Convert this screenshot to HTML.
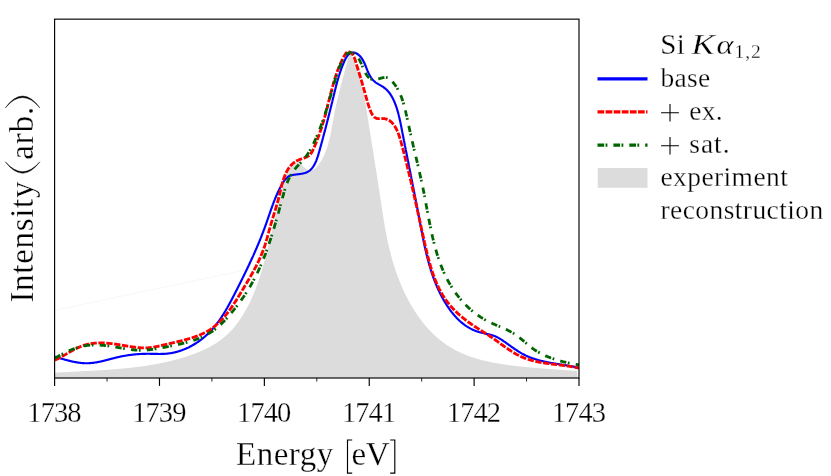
<!DOCTYPE html>
<html><head><meta charset="utf-8"><title>Si K-alpha spectrum</title>
<style>
html,body{margin:0;padding:0;background:#fff;}
body{width:831px;height:476px;overflow:hidden;position:relative;font-family:"Liberation Serif",serif;}
text{font-family:"Liberation Serif",serif;fill:#000;stroke:#fff;stroke-width:0.28px;}
.tk{font-size:28.5px;letter-spacing:-0.9px;}
.al{font-size:33px;}
.yl{letter-spacing:0.7px;}
.lg{font-size:27.5px;letter-spacing:0.3px;}
</style></head><body>
<svg width="831" height="476" viewBox="0 0 831 476" style="position:absolute;left:0;top:0;will-change:transform;">
<rect x="0" y="0" width="831" height="476" fill="#ffffff"/>
<clipPath id="ax"><rect x="54.6" y="19.15" width="524.4" height="358.85"/></clipPath>
<g clip-path="url(#ax)">
<path d="M54.65,372.73 L55.15,372.70 L55.64,372.67 L56.13,372.64 L56.63,372.61 L57.12,372.58 L57.62,372.55 L58.11,372.52 L58.61,372.49 L59.10,372.47 L59.60,372.44 L60.09,372.41 L60.59,372.38 L61.08,372.35 L61.58,372.33 L62.07,372.30 L62.57,372.27 L63.06,372.24 L63.56,372.22 L64.05,372.19 L64.55,372.16 L65.05,372.14 L65.54,372.11 L66.04,372.08 L66.54,372.06 L67.03,372.03 L67.53,372.01 L68.02,371.98 L68.52,371.95 L69.02,371.93 L69.52,371.90 L70.01,371.88 L70.51,371.85 L71.01,371.83 L71.50,371.80 L72.00,371.77 L72.50,371.75 L73.00,371.72 L73.49,371.70 L73.99,371.67 L74.49,371.65 L74.99,371.62 L75.49,371.60 L75.98,371.57 L76.48,371.55 L76.98,371.52 L77.48,371.50 L77.98,371.47 L78.48,371.45 L78.97,371.42 L79.47,371.40 L79.97,371.37 L80.47,371.35 L80.97,371.32 L81.47,371.30 L81.97,371.27 L82.47,371.25 L82.97,371.22 L83.46,371.20 L83.96,371.17 L84.46,371.15 L84.96,371.12 L85.46,371.10 L85.96,371.07 L86.46,371.04 L86.96,371.02 L87.46,370.99 L87.96,370.97 L88.46,370.94 L88.96,370.91 L89.46,370.89 L89.96,370.86 L90.46,370.83 L90.96,370.81 L91.46,370.78 L91.96,370.75 L92.46,370.73 L92.96,370.70 L93.46,370.67 L93.95,370.64 L94.45,370.61 L94.95,370.59 L95.45,370.56 L95.95,370.53 L96.45,370.50 L96.95,370.47 L97.45,370.44 L97.95,370.41 L98.45,370.38 L98.95,370.35 L99.45,370.32 L99.95,370.29 L100.45,370.26 L100.95,370.23 L101.45,370.20 L101.95,370.17 L102.45,370.14 L102.95,370.11 L103.45,370.07 L103.95,370.04 L104.45,370.01 L104.95,369.98 L105.45,369.94 L105.95,369.91 L106.45,369.88 L106.95,369.84 L107.45,369.81 L107.95,369.77 L108.45,369.74 L108.95,369.70 L109.45,369.67 L109.95,369.63 L110.45,369.59 L110.95,369.56 L111.45,369.52 L111.95,369.48 L112.45,369.44 L112.95,369.41 L113.45,369.37 L113.95,369.33 L114.45,369.29 L114.95,369.25 L115.45,369.21 L115.95,369.17 L116.45,369.13 L116.95,369.09 L117.45,369.05 L117.94,369.00 L118.44,368.96 L118.94,368.92 L119.44,368.87 L119.94,368.83 L120.44,368.79 L120.94,368.74 L121.44,368.70 L121.94,368.65 L122.43,368.60 L122.93,368.56 L123.43,368.51 L123.93,368.46 L124.43,368.41 L124.93,368.37 L125.42,368.32 L125.92,368.27 L126.42,368.22 L126.92,368.17 L127.42,368.11 L127.91,368.06 L128.41,368.01 L128.91,367.96 L129.41,367.90 L129.90,367.85 L130.40,367.80 L130.90,367.74 L131.40,367.69 L131.89,367.63 L132.39,367.57 L132.89,367.52 L133.38,367.46 L133.88,367.40 L134.38,367.34 L134.87,367.28 L135.37,367.22 L135.87,367.16 L136.36,367.10 L136.86,367.04 L137.36,366.97 L137.85,366.91 L138.35,366.85 L138.84,366.78 L139.34,366.72 L139.83,366.65 L140.33,366.58 L140.82,366.52 L141.32,366.45 L141.81,366.38 L142.31,366.31 L142.80,366.24 L143.30,366.17 L143.79,366.10 L144.29,366.03 L144.78,365.95 L145.27,365.88 L145.77,365.81 L146.26,365.73 L146.76,365.65 L147.25,365.58 L147.74,365.50 L148.24,365.42 L148.73,365.34 L149.22,365.27 L149.71,365.19 L150.21,365.10 L150.70,365.02 L151.19,364.94 L151.68,364.86 L152.18,364.77 L152.67,364.69 L153.16,364.60 L153.65,364.52 L154.14,364.43 L154.63,364.34 L155.12,364.25 L155.61,364.16 L156.11,364.07 L156.60,363.98 L157.09,363.89 L157.58,363.80 L158.07,363.70 L158.56,363.61 L159.05,363.51 L159.54,363.42 L160.02,363.32 L160.51,363.22 L161.00,363.12 L161.49,363.02 L161.98,362.92 L162.47,362.82 L162.96,362.72 L163.44,362.61 L163.93,362.51 L164.42,362.40 L164.91,362.30 L165.39,362.19 L165.88,362.08 L166.37,361.97 L166.85,361.86 L167.34,361.75 L167.83,361.64 L168.31,361.53 L168.80,361.41 L169.28,361.30 L169.77,361.18 L170.26,361.07 L170.74,360.95 L171.22,360.83 L171.71,360.71 L172.19,360.59 L172.68,360.47 L173.16,360.35 L173.65,360.22 L174.13,360.10 L174.61,359.97 L175.09,359.84 L175.58,359.72 L176.06,359.59 L176.54,359.46 L177.02,359.33 L177.51,359.20 L177.99,359.06 L178.47,358.93 L178.95,358.79 L179.43,358.66 L179.91,358.52 L180.39,358.38 L180.87,358.24 L181.35,358.10 L181.83,357.96 L182.31,357.82 L182.79,357.67 L183.27,357.53 L183.75,357.38 L184.23,357.23 L184.70,357.09 L185.18,356.94 L185.66,356.78 L186.14,356.63 L186.61,356.48 L187.09,356.33 L187.57,356.17 L188.04,356.01 L188.52,355.85 L188.99,355.70 L189.47,355.53 L189.94,355.37 L190.41,355.21 L190.89,355.04 L191.36,354.88 L191.83,354.71 L192.30,354.54 L192.77,354.37 L193.24,354.20 L193.71,354.03 L194.18,353.85 L194.65,353.68 L195.12,353.50 L195.59,353.32 L196.05,353.14 L196.52,352.96 L196.98,352.78 L197.45,352.59 L197.91,352.40 L198.37,352.22 L198.84,352.03 L199.30,351.83 L199.76,351.64 L200.22,351.45 L200.68,351.25 L201.13,351.05 L201.59,350.85 L202.05,350.65 L202.50,350.45 L202.95,350.24 L203.41,350.04 L203.86,349.83 L204.31,349.62 L204.76,349.40 L205.21,349.19 L205.66,348.97 L206.10,348.76 L206.55,348.54 L206.99,348.32 L207.43,348.09 L207.88,347.87 L208.32,347.64 L208.76,347.41 L209.19,347.18 L209.63,346.95 L210.07,346.71 L210.50,346.47 L210.93,346.24 L211.37,345.99 L211.80,345.75 L212.23,345.51 L212.65,345.26 L213.08,345.01 L213.50,344.76 L213.93,344.50 L214.35,344.25 L214.77,343.99 L215.19,343.73 L215.61,343.47 L216.02,343.20 L216.44,342.93 L216.85,342.66 L217.26,342.39 L217.67,342.12 L218.08,341.84 L218.49,341.56 L218.89,341.28 L219.29,341.00 L219.69,340.71 L220.09,340.43 L220.49,340.14 L220.89,339.84 L221.28,339.55 L221.68,339.25 L222.07,338.95 L222.46,338.65 L222.84,338.34 L223.23,338.03 L223.61,337.72 L223.99,337.41 L224.37,337.10 L224.75,336.78 L225.13,336.46 L225.50,336.13 L225.87,335.81 L226.24,335.48 L226.61,335.15 L226.98,334.82 L227.34,334.48 L227.70,334.14 L228.06,333.80 L228.42,333.46 L228.77,333.11 L229.13,332.76 L229.48,332.41 L229.83,332.05 L230.17,331.69 L230.52,331.33 L230.86,330.97 L231.20,330.61 L231.54,330.24 L231.88,329.87 L232.21,329.50 L232.54,329.13 L232.88,328.75 L233.20,328.37 L233.53,327.99 L233.86,327.61 L234.18,327.22 L234.50,326.84 L234.82,326.45 L235.13,326.06 L235.45,325.66 L235.76,325.27 L236.07,324.87 L236.38,324.47 L236.69,324.07 L236.99,323.67 L237.30,323.27 L237.60,322.86 L237.90,322.46 L238.19,322.05 L238.49,321.64 L238.78,321.23 L239.08,320.81 L239.36,320.40 L239.65,319.98 L239.94,319.56 L240.22,319.15 L240.51,318.72 L240.79,318.30 L241.06,317.88 L241.34,317.46 L241.62,317.03 L241.89,316.60 L242.16,316.18 L242.43,315.75 L242.70,315.32 L242.96,314.89 L243.23,314.46 L243.49,314.02 L243.75,313.59 L244.01,313.16 L244.27,312.72 L244.52,312.28 L244.78,311.85 L245.03,311.41 L245.28,310.97 L245.53,310.53 L245.77,310.09 L246.02,309.65 L246.26,309.21 L246.50,308.77 L246.74,308.33 L246.98,307.89 L247.22,307.44 L247.45,307.00 L247.69,306.55 L247.92,306.11 L248.15,305.66 L248.38,305.22 L248.60,304.77 L248.83,304.33 L249.05,303.88 L249.27,303.43 L249.50,302.98 L249.71,302.53 L249.93,302.08 L250.15,301.63 L250.36,301.18 L250.58,300.73 L250.79,300.28 L251.00,299.83 L251.21,299.37 L251.41,298.92 L251.62,298.47 L251.82,298.01 L252.03,297.56 L252.23,297.10 L252.43,296.65 L252.63,296.19 L252.82,295.73 L253.02,295.28 L253.21,294.82 L253.41,294.36 L253.60,293.90 L253.79,293.44 L253.98,292.98 L254.17,292.52 L254.36,292.06 L254.54,291.60 L254.73,291.14 L254.91,290.68 L255.09,290.22 L255.27,289.76 L255.45,289.29 L255.63,288.83 L255.81,288.37 L255.98,287.90 L256.16,287.44 L256.33,286.97 L256.51,286.51 L256.68,286.04 L256.85,285.58 L257.02,285.11 L257.18,284.64 L257.35,284.18 L257.52,283.71 L257.68,283.24 L257.85,282.77 L258.01,282.30 L258.17,281.83 L258.33,281.36 L258.49,280.90 L258.65,280.43 L258.81,279.95 L258.97,279.48 L259.12,279.01 L259.28,278.54 L259.43,278.07 L259.59,277.60 L259.74,277.13 L259.89,276.65 L260.04,276.18 L260.19,275.71 L260.34,275.23 L260.49,274.76 L260.63,274.29 L260.78,273.81 L260.93,273.34 L261.07,272.86 L261.22,272.39 L261.36,271.91 L261.50,271.44 L261.64,270.96 L261.78,270.48 L261.92,270.01 L262.06,269.53 L262.20,269.05 L262.34,268.58 L262.48,268.10 L262.61,267.62 L262.75,267.14 L262.89,266.66 L263.02,266.19 L263.16,265.71 L263.29,265.23 L263.42,264.75 L263.55,264.27 L263.69,263.79 L263.82,263.31 L263.95,262.83 L264.08,262.35 L264.21,261.87 L264.34,261.39 L264.47,260.91 L264.59,260.43 L264.72,259.95 L264.85,259.47 L264.97,258.99 L265.10,258.50 L265.23,258.02 L265.35,257.54 L265.48,257.06 L265.60,256.58 L265.73,256.10 L265.85,255.61 L265.97,255.13 L266.10,254.65 L266.22,254.17 L266.34,253.68 L266.46,253.20 L266.58,252.72 L266.70,252.23 L266.83,251.75 L266.95,251.27 L267.07,250.78 L267.19,250.30 L267.31,249.82 L267.43,249.33 L267.55,248.85 L267.67,248.36 L267.78,247.88 L267.90,247.40 L268.02,246.91 L268.14,246.43 L268.26,245.94 L268.38,245.46 L268.49,244.98 L268.61,244.49 L268.73,244.01 L268.85,243.52 L268.97,243.04 L269.08,242.55 L269.20,242.07 L269.32,241.58 L269.44,241.10 L269.55,240.62 L269.67,240.13 L269.79,239.65 L269.91,239.16 L270.02,238.68 L270.14,238.19 L270.26,237.71 L270.38,237.22 L270.49,236.74 L270.61,236.25 L270.73,235.77 L270.85,235.29 L270.96,234.80 L271.08,234.32 L271.20,233.83 L271.32,233.35 L271.43,232.86 L271.55,232.38 L271.67,231.89 L271.79,231.41 L271.90,230.92 L272.02,230.44 L272.14,229.95 L272.26,229.47 L272.38,228.98 L272.49,228.50 L272.61,228.01 L272.73,227.53 L272.85,227.04 L272.97,226.56 L273.09,226.07 L273.20,225.59 L273.32,225.10 L273.44,224.62 L273.56,224.13 L273.68,223.65 L273.80,223.16 L273.92,222.67 L274.04,222.19 L274.15,221.70 L274.27,221.22 L274.39,220.73 L274.51,220.24 L274.63,219.76 L274.75,219.27 L274.87,218.79 L274.99,218.30 L275.11,217.81 L275.23,217.33 L275.35,216.84 L275.47,216.35 L275.59,215.87 L275.71,215.38 L275.83,214.89 L275.95,214.40 L276.07,213.92 L276.19,213.43 L276.31,212.94 L276.43,212.45 L276.55,211.97 L276.67,211.48 L276.79,210.99 L276.91,210.50 L277.03,210.01 L277.15,209.53 L277.27,209.04 L277.39,208.55 L277.52,208.06 L277.64,207.57 L277.76,207.08 L277.88,206.59 L278.00,206.10 L278.12,205.61 L278.25,205.12 L278.37,204.63 L278.49,204.14 L278.61,203.65 L278.73,203.16 L278.86,202.67 L278.98,202.18 L279.10,201.69 L279.23,201.20 L279.35,200.71 L279.47,200.21 L279.59,199.72 L279.72,199.23 L279.84,198.74 L279.96,198.25 L280.09,197.75 L280.21,197.26 L280.34,196.77 L280.46,196.27 L280.58,195.78 L280.71,195.29 L280.83,194.79 L280.96,194.30 L281.08,193.81 L281.21,193.31 L281.33,192.82 L281.46,192.32 L281.58,191.83 L281.71,191.33 L281.83,190.84 L281.96,190.34 L282.09,189.85 L282.21,189.35 L282.34,188.85 L282.46,188.36 L282.59,187.86 L282.72,187.36 L282.84,186.87 L282.97,186.37 L283.10,185.87 L283.23,185.37 L283.35,184.87 L283.48,184.37 L283.61,183.88 L283.74,183.38 L283.87,182.88 L284.00,182.38 L284.13,181.89 L284.26,181.39 L284.40,180.90 L284.53,180.41 L284.67,179.92 L284.81,179.43 L284.96,178.94 L285.10,178.46 L285.25,177.98 L285.40,177.50 L285.55,177.03 L285.71,176.55 L285.87,176.09 L286.03,175.62 L286.20,175.16 L286.37,174.70 L286.55,174.25 L286.73,173.80 L286.91,173.36 L287.10,172.92 L287.30,172.49 L287.49,172.06 L287.70,171.63 L287.91,171.22 L288.12,170.81 L288.34,170.40 L288.57,170.00 L288.80,169.61 L289.04,169.22 L289.29,168.85 L289.54,168.47 L289.80,168.11 L290.06,167.75 L290.33,167.41 L290.62,167.07 L290.90,166.73 L291.20,166.41 L291.50,166.09 L291.81,165.79 L292.13,165.49 L292.46,165.20 L292.80,164.92 L293.14,164.65 L293.50,164.40 L293.86,164.15 L294.24,163.91 L294.62,163.68 L295.01,163.46 L295.41,163.26 L295.83,163.06 L296.25,162.88 L296.68,162.70 L297.13,162.54 L297.58,162.39 L298.05,162.26 L298.52,162.13 L299.01,162.02 L299.51,161.92 L300.02,161.84 L300.51,162.58 L300.86,163.22 L301.22,163.83 L301.60,164.42 L301.98,164.97 L302.37,165.49 L302.77,165.98 L303.18,166.44 L303.59,166.88 L304.01,167.28 L304.44,167.66 L304.87,168.00 L305.30,168.32 L305.74,168.61 L306.18,168.88 L306.62,169.11 L307.07,169.32 L307.51,169.50 L307.96,169.66 L308.41,169.79 L308.85,169.89 L309.30,169.97 L309.74,170.02 L310.18,170.04 L310.62,170.04 L311.05,170.02 L311.48,169.97 L311.90,169.89 L312.32,169.80 L312.73,169.68 L313.14,169.53 L313.54,169.36 L313.93,169.17 L314.31,168.95 L314.68,168.72 L315.05,168.46 L315.40,168.19 L315.75,167.89 L316.09,167.59 L316.43,167.26 L316.76,166.92 L317.08,166.57 L317.40,166.21 L317.71,165.84 L318.01,165.46 L318.31,165.07 L318.61,164.67 L318.90,164.27 L319.18,163.87 L319.46,163.46 L319.74,163.05 L320.01,162.64 L320.28,162.23 L320.54,161.82 L320.80,161.40 L321.05,160.98 L321.30,160.56 L321.55,160.13 L321.79,159.71 L322.03,159.28 L322.27,158.85 L322.50,158.42 L322.73,157.99 L322.95,157.55 L323.17,157.11 L323.39,156.68 L323.60,156.23 L323.81,155.79 L324.02,155.35 L324.22,154.90 L324.42,154.45 L324.62,154.00 L324.81,153.55 L325.00,153.10 L325.19,152.65 L325.37,152.19 L325.56,151.73 L325.73,151.27 L325.91,150.81 L326.08,150.35 L326.25,149.89 L326.42,149.42 L326.58,148.96 L326.74,148.49 L326.90,148.02 L327.06,147.55 L327.21,147.08 L327.36,146.61 L327.51,146.14 L327.65,145.66 L327.80,145.18 L327.94,144.71 L328.08,144.23 L328.21,143.75 L328.35,143.27 L328.48,142.79 L328.61,142.31 L328.74,141.82 L328.87,141.34 L328.99,140.85 L329.11,140.37 L329.24,139.88 L329.35,139.39 L329.47,138.90 L329.59,138.41 L329.70,137.92 L329.81,137.43 L329.93,136.94 L330.04,136.45 L330.14,135.96 L330.25,135.46 L330.36,134.97 L330.46,134.47 L330.56,133.98 L330.67,133.48 L330.77,132.99 L330.87,132.49 L330.96,131.99 L331.06,131.50 L331.16,131.00 L331.25,130.50 L331.35,130.00 L331.44,129.50 L331.54,129.00 L331.63,128.50 L331.72,128.01 L331.81,127.51 L331.90,127.01 L332.00,126.51 L332.09,126.01 L332.18,125.51 L332.26,125.01 L332.35,124.50 L332.44,124.00 L332.53,123.50 L332.62,123.00 L332.71,122.50 L332.80,122.00 L332.88,121.50 L332.97,121.00 L333.06,120.50 L333.15,120.01 L333.24,119.51 L333.33,119.01 L333.42,118.51 L333.51,118.01 L333.60,117.51 L333.69,117.02 L333.78,116.52 L333.87,116.02 L333.96,115.53 L334.06,115.03 L334.15,114.54 L334.24,114.04 L334.34,113.55 L334.43,113.05 L334.53,112.56 L334.63,112.07 L334.73,111.58 L334.82,111.09 L334.92,110.59 L335.02,110.10 L335.12,109.61 L335.23,109.12 L335.33,108.64 L335.43,108.15 L335.54,107.66 L335.64,107.17 L335.74,106.68 L335.85,106.20 L335.96,105.71 L336.06,105.23 L336.17,104.74 L336.28,104.26 L336.39,103.77 L336.50,103.29 L336.61,102.80 L336.72,102.32 L336.83,101.84 L336.94,101.35 L337.05,100.87 L337.16,100.39 L337.28,99.91 L337.39,99.42 L337.50,98.94 L337.62,98.46 L337.73,97.98 L337.85,97.50 L337.96,97.02 L338.08,96.54 L338.20,96.06 L338.32,95.58 L338.43,95.10 L338.55,94.62 L338.67,94.14 L338.79,93.66 L338.91,93.19 L339.03,92.71 L339.15,92.23 L339.27,91.75 L339.39,91.27 L339.51,90.80 L339.63,90.32 L339.76,89.84 L339.88,89.36 L340.00,88.88 L340.13,88.41 L340.25,87.93 L340.37,87.45 L340.50,86.98 L340.62,86.50 L340.75,86.02 L340.87,85.55 L340.99,85.07 L341.12,84.59 L341.25,84.11 L341.37,83.64 L341.50,83.16 L341.62,82.68 L341.75,82.21 L341.88,81.73 L342.00,81.25 L342.13,80.78 L342.26,80.30 L342.39,79.82 L342.51,79.34 L342.64,78.87 L342.77,78.39 L342.90,77.91 L343.02,77.43 L343.15,76.96 L343.28,76.48 L343.41,76.00 L343.54,75.52 L343.67,75.04 L343.79,74.56 L343.92,74.09 L344.05,73.61 L344.18,73.13 L344.31,72.65 L344.44,72.17 L344.57,71.69 L344.69,71.21 L344.82,70.73 L344.95,70.25 L345.08,69.77 L345.21,69.29 L345.34,68.80 L345.47,68.32 L345.59,67.84 L345.72,67.36 L345.85,66.88 L345.98,66.39 L346.11,65.91 L346.24,65.43 L346.36,64.94 L346.49,64.46 L346.62,63.97 L346.75,63.49 L346.87,63.00 L347.00,62.52 L347.13,62.03 L347.26,61.54 L347.38,61.06 L347.51,60.57 L347.64,60.08 L347.76,59.59 L347.89,59.10 L348.01,58.61 L348.14,58.12 L348.26,57.63 L348.39,57.14 L348.51,56.65 L348.64,56.16 L348.76,55.67 L348.89,55.17 L349.01,54.68 L349.13,54.19 L349.26,53.69 L349.38,53.20 L349.50,52.70 L349.91,52.62 L350.15,53.07 L350.38,53.52 L350.61,53.97 L350.84,54.42 L351.07,54.87 L351.29,55.32 L351.52,55.78 L351.74,56.23 L351.95,56.68 L352.17,57.14 L352.39,57.59 L352.60,58.05 L352.81,58.51 L353.01,58.96 L353.22,59.42 L353.42,59.88 L353.63,60.34 L353.82,60.80 L354.02,61.26 L354.22,61.72 L354.41,62.18 L354.60,62.64 L354.79,63.10 L354.98,63.57 L355.17,64.03 L355.35,64.49 L355.53,64.96 L355.71,65.42 L355.89,65.89 L356.07,66.35 L356.24,66.82 L356.41,67.29 L356.59,67.75 L356.75,68.22 L356.92,68.69 L357.09,69.16 L357.25,69.63 L357.41,70.10 L357.58,70.57 L357.73,71.04 L357.89,71.51 L358.05,71.98 L358.20,72.46 L358.35,72.93 L358.51,73.40 L358.66,73.88 L358.80,74.35 L358.95,74.83 L359.09,75.30 L359.24,75.78 L359.38,76.25 L359.52,76.73 L359.66,77.20 L359.80,77.68 L359.93,78.16 L360.07,78.64 L360.20,79.12 L360.33,79.59 L360.46,80.07 L360.59,80.55 L360.72,81.03 L360.85,81.51 L360.97,81.99 L361.10,82.47 L361.22,82.96 L361.34,83.44 L361.46,83.92 L361.58,84.40 L361.70,84.88 L361.82,85.37 L361.93,85.85 L362.05,86.33 L362.16,86.82 L362.27,87.30 L362.38,87.79 L362.49,88.27 L362.60,88.76 L362.71,89.24 L362.82,89.73 L362.93,90.22 L363.03,90.70 L363.14,91.19 L363.24,91.68 L363.34,92.16 L363.44,92.65 L363.54,93.14 L363.64,93.63 L363.74,94.11 L363.84,94.60 L363.94,95.09 L364.03,95.58 L364.13,96.07 L364.22,96.56 L364.32,97.05 L364.41,97.54 L364.50,98.03 L364.59,98.52 L364.69,99.01 L364.78,99.50 L364.87,99.99 L364.95,100.48 L365.04,100.98 L365.13,101.47 L365.22,101.96 L365.30,102.45 L365.39,102.94 L365.48,103.43 L365.56,103.93 L365.65,104.42 L365.73,104.91 L365.81,105.40 L365.90,105.90 L365.98,106.39 L366.06,106.88 L366.14,107.38 L366.22,107.87 L366.30,108.36 L366.38,108.86 L366.47,109.35 L366.54,109.85 L366.62,110.34 L366.70,110.83 L366.78,111.33 L366.86,111.82 L366.94,112.32 L367.02,112.81 L367.10,113.31 L367.17,113.80 L367.25,114.29 L367.33,114.79 L367.41,115.28 L367.48,115.78 L367.56,116.27 L367.64,116.77 L367.71,117.26 L367.79,117.76 L367.87,118.25 L367.94,118.75 L368.02,119.24 L368.10,119.74 L368.17,120.23 L368.25,120.73 L368.33,121.22 L368.40,121.72 L368.48,122.21 L368.56,122.71 L368.63,123.20 L368.71,123.70 L368.79,124.19 L368.87,124.69 L368.94,125.18 L369.02,125.68 L369.10,126.17 L369.18,126.67 L369.25,127.16 L369.33,127.66 L369.41,128.15 L369.49,128.65 L369.56,129.14 L369.64,129.64 L369.72,130.13 L369.80,130.63 L369.87,131.12 L369.95,131.62 L370.03,132.11 L370.11,132.61 L370.19,133.10 L370.26,133.59 L370.34,134.09 L370.42,134.58 L370.50,135.08 L370.58,135.57 L370.66,136.07 L370.73,136.56 L370.81,137.06 L370.89,137.55 L370.97,138.05 L371.05,138.54 L371.13,139.04 L371.21,139.53 L371.28,140.02 L371.36,140.52 L371.44,141.01 L371.52,141.51 L371.60,142.00 L371.68,142.50 L371.76,142.99 L371.83,143.49 L371.91,143.98 L371.99,144.47 L372.07,144.97 L372.15,145.46 L372.23,145.96 L372.31,146.45 L372.39,146.95 L372.47,147.44 L372.54,147.93 L372.62,148.43 L372.70,148.92 L372.78,149.42 L372.86,149.91 L372.94,150.40 L373.02,150.90 L373.10,151.39 L373.18,151.89 L373.25,152.38 L373.33,152.88 L373.41,153.37 L373.49,153.86 L373.57,154.36 L373.65,154.85 L373.73,155.35 L373.81,155.84 L373.89,156.33 L373.96,156.83 L374.04,157.32 L374.12,157.81 L374.20,158.31 L374.28,158.80 L374.36,159.30 L374.44,159.79 L374.52,160.28 L374.59,160.78 L374.67,161.27 L374.75,161.77 L374.83,162.26 L374.91,162.75 L374.99,163.25 L375.07,163.74 L375.14,164.23 L375.22,164.73 L375.30,165.22 L375.38,165.71 L375.46,166.21 L375.54,166.70 L375.61,167.19 L375.69,167.69 L375.77,168.18 L375.85,168.68 L375.93,169.17 L376.01,169.66 L376.08,170.16 L376.16,170.65 L376.24,171.14 L376.32,171.64 L376.39,172.13 L376.47,172.62 L376.55,173.11 L376.63,173.61 L376.71,174.10 L376.78,174.59 L376.86,175.09 L376.94,175.58 L377.02,176.07 L377.09,176.57 L377.17,177.06 L377.25,177.55 L377.32,178.05 L377.40,178.54 L377.48,179.03 L377.56,179.52 L377.63,180.02 L377.71,180.51 L377.79,181.00 L377.86,181.50 L377.94,181.99 L378.02,182.48 L378.09,182.97 L378.17,183.47 L378.24,183.96 L378.32,184.45 L378.40,184.95 L378.47,185.44 L378.55,185.93 L378.62,186.42 L378.70,186.92 L378.78,187.41 L378.85,187.90 L378.93,188.39 L379.00,188.89 L379.08,189.38 L379.15,189.87 L379.23,190.36 L379.30,190.86 L379.38,191.35 L379.45,191.84 L379.53,192.33 L379.60,192.82 L379.68,193.32 L379.75,193.81 L379.82,194.30 L379.90,194.79 L379.97,195.28 L380.05,195.78 L380.12,196.27 L380.19,196.76 L380.27,197.25 L380.34,197.75 L380.42,198.24 L380.49,198.73 L380.56,199.22 L380.64,199.71 L380.71,200.20 L380.78,200.70 L380.86,201.19 L380.93,201.68 L381.00,202.17 L381.08,202.66 L381.15,203.15 L381.22,203.65 L381.30,204.14 L381.37,204.63 L381.44,205.12 L381.52,205.61 L381.59,206.10 L381.67,206.59 L381.74,207.09 L381.81,207.58 L381.89,208.07 L381.96,208.56 L382.04,209.05 L382.11,209.54 L382.19,210.03 L382.26,210.52 L382.34,211.02 L382.41,211.51 L382.49,212.00 L382.56,212.49 L382.64,212.98 L382.72,213.47 L382.79,213.96 L382.87,214.45 L382.95,214.94 L383.02,215.43 L383.10,215.92 L383.18,216.41 L383.26,216.90 L383.33,217.40 L383.41,217.89 L383.49,218.38 L383.57,218.87 L383.65,219.36 L383.73,219.85 L383.81,220.34 L383.89,220.83 L383.97,221.32 L384.05,221.81 L384.13,222.30 L384.22,222.79 L384.30,223.28 L384.38,223.77 L384.47,224.26 L384.55,224.75 L384.63,225.24 L384.72,225.73 L384.80,226.22 L384.89,226.71 L384.97,227.20 L385.06,227.69 L385.15,228.17 L385.24,228.66 L385.32,229.15 L385.41,229.64 L385.50,230.13 L385.59,230.62 L385.68,231.11 L385.77,231.60 L385.86,232.09 L385.95,232.58 L386.05,233.07 L386.14,233.55 L386.23,234.04 L386.33,234.53 L386.42,235.02 L386.52,235.51 L386.61,236.00 L386.71,236.49 L386.81,236.98 L386.91,237.46 L387.00,237.95 L387.10,238.44 L387.20,238.93 L387.30,239.42 L387.41,239.90 L387.51,240.39 L387.61,240.88 L387.71,241.37 L387.82,241.86 L387.92,242.34 L388.03,242.83 L388.14,243.32 L388.24,243.81 L388.35,244.29 L388.46,244.78 L388.57,245.27 L388.68,245.76 L388.79,246.24 L388.91,246.73 L389.02,247.22 L389.13,247.71 L389.25,248.19 L389.36,248.68 L389.48,249.17 L389.60,249.65 L389.72,250.14 L389.83,250.63 L389.96,251.11 L390.08,251.60 L390.20,252.09 L390.32,252.57 L390.45,253.06 L390.57,253.55 L390.70,254.03 L390.82,254.52 L390.95,255.00 L391.08,255.49 L391.21,255.98 L391.34,256.46 L391.47,256.95 L391.61,257.43 L391.74,257.92 L391.87,258.40 L392.01,258.89 L392.15,259.37 L392.29,259.86 L392.43,260.35 L392.57,260.83 L392.71,261.32 L392.85,261.80 L392.99,262.28 L393.14,262.77 L393.28,263.25 L393.43,263.74 L393.58,264.22 L393.73,264.71 L393.88,265.19 L394.03,265.67 L394.18,266.16 L394.34,266.64 L394.49,267.12 L394.65,267.61 L394.80,268.09 L394.96,268.57 L395.12,269.05 L395.28,269.54 L395.44,270.02 L395.60,270.50 L395.77,270.98 L395.93,271.46 L396.10,271.94 L396.26,272.42 L396.43,272.90 L396.60,273.38 L396.77,273.86 L396.94,274.34 L397.11,274.82 L397.29,275.29 L397.46,275.77 L397.64,276.25 L397.82,276.72 L397.99,277.20 L398.17,277.68 L398.35,278.15 L398.54,278.63 L398.72,279.10 L398.90,279.58 L399.09,280.05 L399.27,280.52 L399.46,281.00 L399.65,281.47 L399.84,281.94 L400.03,282.41 L400.22,282.88 L400.42,283.35 L400.61,283.82 L400.80,284.29 L401.00,284.76 L401.20,285.23 L401.40,285.70 L401.60,286.16 L401.80,286.63 L402.00,287.10 L402.21,287.56 L402.41,288.02 L402.62,288.49 L402.82,288.95 L403.03,289.41 L403.24,289.88 L403.45,290.34 L403.67,290.80 L403.88,291.26 L404.09,291.72 L404.31,292.18 L404.53,292.63 L404.74,293.09 L404.96,293.55 L405.18,294.00 L405.41,294.46 L405.63,294.91 L405.85,295.37 L406.08,295.82 L406.30,296.27 L406.53,296.72 L406.76,297.17 L406.99,297.62 L407.22,298.07 L407.46,298.52 L407.69,298.96 L407.92,299.41 L408.16,299.86 L408.40,300.30 L408.64,300.74 L408.88,301.19 L409.12,301.63 L409.36,302.07 L409.60,302.51 L409.85,302.95 L410.10,303.39 L410.34,303.82 L410.59,304.26 L410.84,304.69 L411.09,305.13 L411.35,305.56 L411.60,305.99 L411.85,306.43 L412.11,306.86 L412.37,307.29 L412.63,307.71 L412.89,308.14 L413.15,308.57 L413.41,308.99 L413.67,309.42 L413.94,309.84 L414.21,310.26 L414.47,310.68 L414.74,311.10 L415.01,311.52 L415.28,311.94 L415.56,312.36 L415.83,312.77 L416.11,313.19 L416.38,313.60 L416.66,314.01 L416.94,314.42 L417.22,314.83 L417.50,315.24 L417.79,315.65 L418.07,316.05 L418.36,316.46 L418.64,316.86 L418.93,317.26 L419.22,317.67 L419.51,318.07 L419.80,318.46 L420.10,318.86 L420.39,319.26 L420.69,319.65 L420.99,320.05 L421.29,320.44 L421.59,320.83 L421.89,321.22 L422.19,321.61 L422.49,321.99 L422.80,322.38 L423.11,322.76 L423.41,323.15 L423.72,323.53 L424.03,323.91 L424.35,324.29 L424.66,324.66 L424.97,325.04 L425.29,325.42 L425.61,325.79 L425.93,326.16 L426.25,326.53 L426.57,326.90 L426.89,327.27 L427.22,327.63 L427.54,328.00 L427.87,328.36 L428.20,328.72 L428.53,329.08 L428.86,329.44 L429.19,329.80 L429.52,330.15 L429.86,330.50 L430.20,330.86 L430.53,331.21 L430.87,331.56 L431.21,331.90 L431.56,332.25 L431.90,332.59 L432.24,332.94 L432.59,333.28 L432.94,333.62 L433.29,333.95 L433.64,334.29 L433.99,334.62 L434.34,334.96 L434.70,335.29 L435.05,335.62 L435.41,335.95 L435.77,336.27 L436.13,336.60 L436.49,336.92 L436.85,337.24 L437.22,337.56 L437.58,337.88 L437.95,338.19 L438.32,338.51 L438.69,338.82 L439.06,339.13 L439.43,339.44 L439.81,339.74 L440.18,340.05 L440.56,340.35 L440.94,340.65 L441.32,340.95 L441.70,341.25 L442.08,341.54 L442.47,341.84 L442.85,342.13 L443.24,342.42 L443.63,342.71 L444.02,342.99 L444.41,343.28 L444.80,343.56 L445.20,343.84 L445.59,344.12 L445.99,344.40 L446.39,344.67 L446.79,344.94 L447.19,345.22 L447.59,345.48 L448.00,345.75 L448.40,346.02 L448.81,346.28 L449.22,346.54 L449.63,346.80 L450.04,347.05 L450.45,347.31 L450.87,347.56 L451.29,347.81 L451.70,348.06 L452.12,348.31 L452.54,348.55 L452.96,348.79 L453.39,349.03 L453.81,349.27 L454.24,349.51 L454.67,349.74 L455.10,349.97 L455.53,350.20 L455.96,350.43 L456.39,350.65 L456.83,350.88 L457.27,351.10 L457.70,351.32 L458.14,351.53 L458.59,351.75 L459.03,351.96 L459.47,352.17 L459.92,352.38 L460.36,352.59 L460.81,352.79 L461.26,352.99 L461.71,353.19 L462.16,353.39 L462.61,353.59 L463.07,353.78 L463.52,353.98 L463.98,354.17 L464.44,354.36 L464.90,354.54 L465.36,354.73 L465.82,354.91 L466.28,355.10 L466.74,355.27 L467.21,355.45 L467.67,355.63 L468.14,355.80 L468.61,355.98 L469.08,356.15 L469.55,356.32 L470.02,356.48 L470.49,356.65 L470.97,356.81 L471.44,356.98 L471.92,357.14 L472.39,357.29 L472.87,357.45 L473.35,357.61 L473.83,357.76 L474.31,357.91 L474.79,358.06 L475.27,358.21 L475.75,358.36 L476.24,358.51 L476.72,358.65 L477.21,358.79 L477.69,358.93 L478.18,359.07 L478.67,359.21 L479.16,359.35 L479.65,359.48 L480.14,359.62 L480.63,359.75 L481.12,359.88 L481.61,360.01 L482.11,360.13 L482.60,360.26 L483.10,360.39 L483.59,360.51 L484.09,360.63 L484.58,360.75 L485.08,360.87 L485.58,360.99 L486.08,361.10 L486.58,361.22 L487.08,361.33 L487.58,361.45 L488.08,361.56 L488.58,361.67 L489.08,361.78 L489.59,361.88 L490.09,361.99 L490.59,362.09 L491.10,362.20 L491.60,362.30 L492.11,362.40 L492.61,362.50 L493.12,362.60 L493.62,362.70 L494.13,362.79 L494.64,362.89 L495.15,362.98 L495.65,363.08 L496.16,363.17 L496.67,363.26 L497.18,363.35 L497.69,363.44 L498.20,363.53 L498.71,363.61 L499.22,363.70 L499.73,363.78 L500.24,363.87 L500.75,363.95 L501.26,364.03 L501.78,364.11 L502.29,364.19 L502.80,364.27 L503.31,364.35 L503.82,364.42 L504.34,364.50 L504.85,364.57 L505.36,364.65 L505.87,364.72 L506.39,364.79 L506.90,364.86 L507.41,364.94 L507.93,365.01 L508.44,365.07 L508.95,365.14 L509.47,365.21 L509.98,365.28 L510.49,365.34 L511.00,365.41 L511.52,365.47 L512.03,365.54 L512.54,365.60 L513.06,365.66 L513.57,365.72 L514.08,365.78 L514.60,365.84 L515.11,365.90 L515.62,365.96 L516.13,366.02 L516.64,366.08 L517.16,366.13 L517.67,366.19 L518.18,366.25 L518.69,366.30 L519.20,366.36 L519.71,366.41 L520.22,366.46 L520.73,366.52 L521.24,366.57 L521.75,366.62 L522.26,366.67 L522.77,366.72 L523.28,366.77 L523.79,366.82 L524.30,366.87 L524.80,366.92 L525.31,366.97 L525.82,367.02 L526.32,367.07 L526.83,367.12 L527.34,367.16 L527.84,367.21 L528.35,367.26 L528.85,367.30 L529.36,367.35 L529.86,367.39 L530.36,367.44 L530.87,367.48 L531.37,367.53 L531.87,367.57 L532.37,367.61 L532.87,367.66 L533.38,367.70 L533.88,367.74 L534.38,367.79 L534.88,367.83 L535.38,367.87 L535.88,367.91 L536.38,367.95 L536.87,367.99 L537.37,368.04 L537.87,368.08 L538.37,368.12 L538.87,368.16 L539.36,368.20 L539.86,368.24 L540.36,368.28 L540.85,368.31 L541.35,368.35 L541.84,368.39 L542.34,368.43 L542.83,368.47 L543.33,368.51 L543.82,368.55 L544.31,368.58 L544.81,368.62 L545.30,368.66 L545.79,368.70 L546.29,368.74 L546.78,368.77 L547.27,368.81 L547.76,368.85 L548.25,368.88 L548.74,368.92 L549.23,368.96 L549.72,369.00 L550.21,369.03 L550.70,369.07 L551.19,369.11 L551.68,369.14 L552.17,369.18 L552.66,369.22 L553.14,369.25 L553.63,369.29 L554.12,369.32 L554.61,369.36 L555.09,369.40 L555.58,369.43 L556.07,369.47 L556.55,369.51 L557.04,369.54 L557.52,369.58 L558.01,369.62 L558.49,369.65 L558.98,369.69 L559.46,369.73 L559.94,369.76 L560.43,369.80 L560.91,369.84 L561.39,369.88 L561.88,369.91 L562.36,369.95 L562.84,369.99 L563.32,370.02 L563.80,370.06 L564.29,370.10 L564.77,370.14 L565.25,370.18 L565.73,370.21 L566.21,370.25 L566.69,370.29 L567.17,370.33 L567.65,370.37 L568.13,370.41 L568.60,370.45 L569.08,370.49 L569.56,370.53 L570.04,370.57 L570.52,370.61 L571.00,370.65 L571.47,370.69 L571.95,370.73 L572.43,370.77 L572.90,370.81 L573.38,370.85 L573.86,370.90 L574.33,370.94 L574.81,370.98 L575.28,371.02 L575.76,371.07 L576.23,371.11 L576.71,371.15 L577.18,371.20 L577.6,378.0 L54.6,378.0 Z" fill="#dcdcdc" stroke="none"/>
<line x1="54.6" y1="310.3" x2="258" y2="267.3" stroke="#f6f6f6" stroke-width="0.9"/>
<path d="M54.83,356.73 L55.29,356.87 L55.75,357.00 L56.21,357.13 L56.67,357.27 L57.13,357.40 L57.60,357.54 L58.06,357.68 L58.53,357.82 L59.00,357.95 L59.47,358.09 L59.95,358.23 L60.42,358.37 L60.90,358.51 L61.37,358.65 L61.85,358.79 L62.33,358.92 L62.81,359.06 L63.30,359.20 L63.78,359.33 L64.27,359.47 L64.75,359.61 L65.24,359.74 L65.73,359.87 L66.22,360.01 L66.71,360.14 L67.20,360.27 L67.69,360.39 L68.18,360.52 L68.68,360.65 L69.17,360.77 L69.66,360.89 L70.16,361.01 L70.66,361.13 L71.15,361.24 L71.65,361.36 L72.15,361.47 L72.65,361.58 L73.15,361.68 L73.65,361.79 L74.15,361.89 L74.65,361.99 L75.15,362.08 L75.65,362.17 L76.15,362.26 L76.65,362.35 L77.16,362.43 L77.66,362.51 L78.16,362.59 L78.66,362.66 L79.16,362.73 L79.67,362.79 L80.17,362.85 L80.67,362.91 L81.17,362.96 L81.67,363.01 L82.17,363.06 L82.68,363.10 L83.18,363.13 L83.68,363.17 L84.18,363.19 L84.68,363.21 L85.18,363.23 L85.68,363.24 L86.17,363.25 L86.67,363.25 L87.17,363.25 L87.67,363.24 L88.16,363.22 L88.66,363.21 L89.15,363.18 L89.65,363.15 L90.14,363.12 L90.63,363.08 L91.13,363.04 L91.62,362.99 L92.11,362.94 L92.60,362.89 L93.09,362.83 L93.59,362.77 L94.08,362.70 L94.57,362.63 L95.05,362.56 L95.54,362.48 L96.03,362.40 L96.52,362.32 L97.01,362.23 L97.50,362.14 L97.99,362.05 L98.47,361.95 L98.96,361.85 L99.45,361.75 L99.93,361.65 L100.42,361.55 L100.91,361.44 L101.39,361.33 L101.88,361.22 L102.36,361.10 L102.85,360.99 L103.33,360.87 L103.82,360.75 L104.30,360.64 L104.79,360.51 L105.27,360.39 L105.76,360.27 L106.24,360.14 L106.73,360.02 L107.21,359.89 L107.70,359.77 L108.18,359.64 L108.67,359.51 L109.15,359.39 L109.64,359.26 L110.12,359.13 L110.61,359.00 L111.09,358.87 L111.58,358.75 L112.06,358.62 L112.55,358.49 L113.03,358.37 L113.52,358.24 L114.01,358.12 L114.49,357.99 L114.98,357.87 L115.46,357.75 L115.95,357.63 L116.44,357.51 L116.93,357.39 L117.41,357.28 L117.90,357.16 L118.39,357.05 L118.88,356.94 L119.37,356.83 L119.86,356.73 L120.34,356.62 L120.83,356.52 L121.32,356.42 L121.81,356.32 L122.30,356.23 L122.80,356.13 L123.29,356.04 L123.78,355.95 L124.27,355.86 L124.76,355.77 L125.25,355.69 L125.75,355.61 L126.24,355.52 L126.73,355.45 L127.22,355.37 L127.72,355.29 L128.21,355.22 L128.70,355.15 L129.20,355.08 L129.69,355.01 L130.19,354.95 L130.68,354.88 L131.18,354.82 L131.67,354.76 L132.17,354.70 L132.66,354.64 L133.16,354.59 L133.65,354.54 L134.15,354.49 L134.64,354.44 L135.14,354.39 L135.63,354.35 L136.13,354.30 L136.63,354.26 L137.12,354.22 L137.62,354.18 L138.11,354.15 L138.61,354.11 L139.11,354.08 L139.60,354.05 L140.10,354.02 L140.60,353.99 L141.09,353.97 L141.59,353.94 L142.09,353.92 L142.58,353.90 L143.08,353.88 L143.58,353.86 L144.07,353.85 L144.57,353.84 L145.07,353.82 L145.56,353.81 L146.06,353.81 L146.56,353.80 L147.06,353.79 L147.55,353.79 L148.05,353.79 L148.55,353.79 L149.04,353.79 L149.54,353.80 L150.04,353.80 L150.53,353.81 L151.03,353.82 L151.52,353.82 L152.02,353.83 L152.52,353.84 L153.01,353.85 L153.51,353.86 L154.01,353.87 L154.50,353.88 L155.00,353.89 L155.49,353.90 L155.99,353.91 L156.48,353.92 L156.98,353.93 L157.48,353.94 L157.97,353.94 L158.47,353.95 L158.96,353.95 L159.46,353.95 L159.95,353.95 L160.45,353.95 L160.94,353.94 L161.43,353.94 L161.93,353.93 L162.42,353.91 L162.92,353.90 L163.41,353.88 L163.91,353.86 L164.40,353.84 L164.89,353.81 L165.39,353.78 L165.88,353.74 L166.37,353.70 L166.87,353.66 L167.36,353.61 L167.85,353.56 L168.34,353.50 L168.84,353.44 L169.33,353.38 L169.82,353.31 L170.31,353.23 L170.80,353.16 L171.30,353.07 L171.79,352.99 L172.28,352.89 L172.77,352.80 L173.26,352.70 L173.74,352.59 L174.23,352.49 L174.72,352.37 L175.21,352.26 L175.69,352.14 L176.18,352.01 L176.67,351.88 L177.15,351.75 L177.63,351.61 L178.12,351.47 L178.60,351.33 L179.08,351.18 L179.56,351.02 L180.04,350.87 L180.52,350.71 L181.00,350.54 L181.48,350.37 L181.95,350.20 L182.43,350.03 L182.90,349.85 L183.37,349.67 L183.84,349.48 L184.31,349.29 L184.78,349.10 L185.25,348.90 L185.72,348.70 L186.18,348.50 L186.65,348.29 L187.11,348.08 L187.57,347.86 L188.03,347.65 L188.49,347.42 L188.95,347.20 L189.40,346.97 L189.86,346.74 L190.31,346.51 L190.76,346.27 L191.21,346.03 L191.66,345.79 L192.10,345.54 L192.54,345.29 L192.99,345.04 L193.43,344.79 L193.87,344.53 L194.30,344.27 L194.74,344.00 L195.17,343.74 L195.60,343.47 L196.03,343.19 L196.46,342.92 L196.88,342.64 L197.31,342.36 L197.73,342.08 L198.15,341.79 L198.56,341.50 L198.98,341.21 L199.39,340.92 L199.80,340.62 L200.21,340.32 L200.61,340.02 L201.02,339.71 L201.42,339.41 L201.82,339.10 L202.21,338.79 L202.61,338.47 L203.00,338.16 L203.38,337.84 L203.77,337.52 L204.15,337.20 L204.53,336.87 L204.91,336.55 L205.29,336.22 L205.66,335.88 L206.03,335.55 L206.40,335.22 L206.77,334.88 L207.13,334.54 L207.49,334.20 L207.85,333.85 L208.20,333.51 L208.56,333.16 L208.91,332.81 L209.26,332.46 L209.60,332.10 L209.95,331.75 L210.29,331.39 L210.63,331.03 L210.97,330.67 L211.30,330.31 L211.64,329.94 L211.97,329.58 L212.30,329.21 L212.62,328.84 L212.95,328.47 L213.27,328.10 L213.59,327.72 L213.91,327.34 L214.23,326.97 L214.54,326.59 L214.86,326.20 L215.17,325.82 L215.48,325.44 L215.78,325.05 L216.09,324.66 L216.39,324.27 L216.69,323.88 L216.99,323.49 L217.29,323.10 L217.59,322.70 L217.88,322.30 L218.18,321.91 L218.47,321.51 L218.76,321.11 L219.05,320.70 L219.33,320.30 L219.62,319.90 L219.90,319.49 L220.18,319.08 L220.46,318.67 L220.74,318.26 L221.02,317.85 L221.29,317.44 L221.57,317.03 L221.84,316.61 L222.11,316.20 L222.38,315.78 L222.65,315.36 L222.92,314.95 L223.18,314.53 L223.45,314.11 L223.71,313.68 L223.97,313.26 L224.23,312.84 L224.49,312.41 L224.75,311.99 L225.01,311.56 L225.26,311.13 L225.52,310.71 L225.77,310.28 L226.03,309.85 L226.28,309.42 L226.53,308.98 L226.78,308.55 L227.03,308.12 L227.28,307.69 L227.52,307.25 L227.77,306.82 L228.01,306.38 L228.26,305.94 L228.50,305.51 L228.74,305.07 L228.98,304.63 L229.23,304.19 L229.47,303.75 L229.70,303.31 L229.94,302.87 L230.18,302.43 L230.42,301.99 L230.66,301.55 L230.89,301.11 L231.13,300.66 L231.36,300.22 L231.59,299.78 L231.83,299.33 L232.06,298.89 L232.29,298.45 L232.53,298.00 L232.76,297.56 L232.99,297.11 L233.22,296.67 L233.45,296.22 L233.68,295.77 L233.91,295.33 L234.14,294.88 L234.37,294.44 L234.59,293.99 L234.82,293.54 L235.05,293.10 L235.28,292.65 L235.51,292.20 L235.73,291.76 L235.96,291.31 L236.19,290.86 L236.41,290.42 L236.64,289.97 L236.87,289.52 L237.09,289.08 L237.32,288.63 L237.55,288.18 L237.77,287.74 L238.00,287.29 L238.22,286.84 L238.45,286.40 L238.67,285.95 L238.90,285.50 L239.12,285.06 L239.35,284.61 L239.57,284.16 L239.80,283.72 L240.02,283.27 L240.24,282.82 L240.47,282.37 L240.69,281.93 L240.91,281.48 L241.14,281.03 L241.36,280.59 L241.58,280.14 L241.80,279.69 L242.02,279.24 L242.25,278.80 L242.47,278.35 L242.69,277.90 L242.91,277.45 L243.13,277.01 L243.35,276.56 L243.57,276.11 L243.79,275.66 L244.01,275.21 L244.23,274.77 L244.45,274.32 L244.67,273.87 L244.88,273.42 L245.10,272.97 L245.32,272.52 L245.54,272.08 L245.76,271.63 L245.97,271.18 L246.19,270.73 L246.41,270.28 L246.62,269.83 L246.84,269.38 L247.05,268.93 L247.27,268.48 L247.48,268.03 L247.70,267.58 L247.91,267.13 L248.13,266.68 L248.34,266.23 L248.55,265.78 L248.76,265.33 L248.98,264.88 L249.19,264.43 L249.40,263.98 L249.61,263.53 L249.82,263.07 L250.03,262.62 L250.24,262.17 L250.45,261.72 L250.66,261.27 L250.87,260.81 L251.08,260.36 L251.29,259.91 L251.50,259.46 L251.71,259.00 L251.91,258.55 L252.12,258.10 L252.33,257.64 L252.53,257.19 L252.74,256.74 L252.94,256.28 L253.15,255.83 L253.35,255.37 L253.56,254.92 L253.76,254.46 L253.96,254.01 L254.17,253.55 L254.37,253.10 L254.57,252.64 L254.77,252.18 L254.97,251.73 L255.17,251.27 L255.37,250.81 L255.57,250.36 L255.77,249.90 L255.97,249.44 L256.17,248.98 L256.37,248.53 L256.57,248.07 L256.76,247.61 L256.96,247.15 L257.16,246.69 L257.35,246.23 L257.55,245.77 L257.74,245.31 L257.93,244.85 L258.13,244.39 L258.32,243.93 L258.51,243.47 L258.71,243.01 L258.90,242.55 L259.09,242.08 L259.28,241.62 L259.47,241.16 L259.66,240.70 L259.85,240.23 L260.04,239.77 L260.22,239.31 L260.41,238.84 L260.60,238.38 L260.78,237.91 L260.97,237.45 L261.16,236.98 L261.34,236.52 L261.52,236.05 L261.71,235.58 L261.89,235.12 L262.07,234.65 L262.26,234.18 L262.44,233.71 L262.62,233.25 L262.80,232.78 L262.98,232.31 L263.16,231.84 L263.34,231.37 L263.51,230.90 L263.69,230.43 L263.87,229.96 L264.04,229.49 L264.22,229.02 L264.39,228.55 L264.57,228.07 L264.74,227.60 L264.91,227.13 L265.09,226.65 L265.26,226.18 L265.43,225.71 L265.60,225.23 L265.77,224.76 L265.94,224.28 L266.11,223.81 L266.28,223.33 L266.44,222.85 L266.61,222.38 L266.78,221.90 L266.95,221.42 L267.11,220.95 L267.28,220.47 L267.44,219.99 L267.61,219.51 L267.77,219.04 L267.94,218.56 L268.10,218.08 L268.27,217.60 L268.43,217.12 L268.60,216.64 L268.76,216.17 L268.92,215.69 L269.09,215.21 L269.25,214.73 L269.42,214.25 L269.58,213.77 L269.75,213.30 L269.91,212.82 L270.08,212.34 L270.24,211.86 L270.41,211.38 L270.57,210.91 L270.74,210.43 L270.91,209.95 L271.08,209.48 L271.24,209.00 L271.41,208.52 L271.58,208.05 L271.75,207.57 L271.92,207.10 L272.09,206.62 L272.26,206.15 L272.44,205.68 L272.61,205.20 L272.78,204.73 L272.96,204.26 L273.13,203.78 L273.31,203.31 L273.49,202.84 L273.66,202.37 L273.84,201.90 L274.02,201.43 L274.21,200.97 L274.39,200.50 L274.57,200.03 L274.76,199.57 L274.94,199.10 L275.13,198.64 L275.32,198.17 L275.51,197.71 L275.70,197.25 L275.89,196.78 L276.09,196.32 L276.28,195.86 L276.48,195.40 L276.68,194.95 L276.88,194.49 L277.08,194.03 L277.28,193.58 L277.48,193.12 L277.69,192.67 L277.90,192.22 L278.11,191.77 L278.32,191.32 L278.53,190.87 L278.75,190.42 L278.97,189.98 L279.18,189.53 L279.41,189.09 L279.63,188.64 L279.85,188.20 L280.08,187.76 L280.31,187.32 L280.54,186.88 L280.77,186.45 L281.01,186.01 L281.25,185.58 L281.49,185.15 L281.73,184.71 L281.97,184.29 L282.22,183.86 L282.47,183.43 L282.73,183.01 L282.98,182.60 L283.24,182.19 L283.51,181.78 L283.78,181.38 L284.06,180.99 L284.34,180.60 L284.63,180.22 L284.92,179.85 L285.22,179.49 L285.52,179.14 L285.84,178.80 L286.15,178.46 L286.48,178.14 L286.82,177.83 L287.16,177.54 L287.51,177.25 L287.87,176.98 L288.24,176.73 L288.61,176.49 L289.00,176.26 L289.40,176.05 L289.81,175.86 L290.22,175.68 L290.65,175.52 L291.09,175.38 L291.54,175.25 L291.99,175.13 L292.45,175.02 L292.92,174.93 L293.40,174.84 L293.88,174.76 L294.37,174.69 L294.86,174.63 L295.35,174.56 L295.85,174.50 L296.35,174.45 L296.85,174.39 L297.35,174.34 L297.85,174.28 L298.35,174.22 L298.85,174.16 L299.35,174.10 L299.85,174.03 L300.35,173.96 L300.85,173.89 L301.34,173.81 L301.83,173.73 L302.31,173.64 L302.80,173.54 L303.27,173.43 L303.74,173.32 L304.21,173.20 L304.67,173.07 L305.12,172.93 L305.57,172.78 L306.00,172.62 L306.43,172.45 L306.85,172.27 L307.26,172.07 L307.67,171.86 L308.06,171.64 L308.44,171.40 L308.82,171.15 L309.18,170.89 L309.54,170.62 L309.89,170.34 L310.23,170.05 L310.56,169.74 L310.89,169.43 L311.21,169.10 L311.51,168.77 L311.82,168.42 L312.11,168.06 L312.40,167.70 L312.68,167.33 L312.95,166.94 L313.22,166.55 L313.48,166.15 L313.74,165.75 L313.99,165.33 L314.23,164.91 L314.47,164.48 L314.70,164.05 L314.93,163.60 L315.15,163.16 L315.36,162.70 L315.57,162.24 L315.78,161.77 L315.98,161.30 L316.18,160.83 L316.37,160.34 L316.56,159.86 L316.75,159.37 L316.93,158.88 L317.11,158.38 L317.28,157.88 L317.45,157.37 L317.62,156.87 L317.79,156.36 L317.95,155.84 L318.11,155.33 L318.27,154.82 L318.43,154.30 L318.58,153.78 L318.73,153.26 L318.88,152.74 L319.03,152.22 L319.18,151.70 L319.33,151.18 L319.47,150.66 L319.62,150.14 L319.76,149.62 L319.91,149.10 L320.05,148.59 L320.19,148.07 L320.34,147.56 L320.48,147.05 L320.62,146.53 L320.76,146.02 L320.90,145.51 L321.04,145.00 L321.18,144.50 L321.32,143.99 L321.46,143.48 L321.59,142.98 L321.73,142.47 L321.87,141.97 L322.00,141.47 L322.14,140.97 L322.28,140.47 L322.41,139.97 L322.55,139.47 L322.68,138.97 L322.81,138.47 L322.95,137.98 L323.08,137.48 L323.21,136.99 L323.35,136.49 L323.48,136.00 L323.61,135.51 L323.74,135.02 L323.87,134.53 L324.00,134.04 L324.13,133.55 L324.26,133.06 L324.39,132.57 L324.52,132.08 L324.65,131.60 L324.78,131.11 L324.90,130.63 L325.03,130.14 L325.16,129.66 L325.29,129.18 L325.41,128.69 L325.54,128.21 L325.67,127.73 L325.79,127.25 L325.92,126.77 L326.04,126.29 L326.17,125.81 L326.29,125.33 L326.41,124.85 L326.54,124.37 L326.66,123.90 L326.78,123.42 L326.91,122.94 L327.03,122.46 L327.15,121.99 L327.28,121.51 L327.40,121.04 L327.52,120.56 L327.64,120.09 L327.76,119.62 L327.88,119.14 L328.00,118.67 L328.12,118.20 L328.24,117.72 L328.36,117.25 L328.48,116.78 L328.60,116.31 L328.72,115.83 L328.84,115.36 L328.96,114.89 L329.08,114.42 L329.20,113.95 L329.32,113.48 L329.44,113.01 L329.55,112.54 L329.67,112.07 L329.79,111.60 L329.91,111.13 L330.03,110.66 L330.14,110.19 L330.26,109.72 L330.38,109.25 L330.49,108.78 L330.61,108.31 L330.73,107.84 L330.84,107.37 L330.96,106.90 L331.08,106.43 L331.19,105.96 L331.31,105.49 L331.43,105.02 L331.54,104.55 L331.66,104.08 L331.77,103.61 L331.89,103.14 L332.00,102.67 L332.12,102.20 L332.24,101.73 L332.35,101.25 L332.47,100.78 L332.58,100.31 L332.70,99.84 L332.81,99.37 L332.93,98.90 L333.04,98.43 L333.16,97.95 L333.27,97.48 L333.39,97.01 L333.50,96.53 L333.62,96.06 L333.73,95.59 L333.85,95.11 L333.96,94.64 L334.08,94.16 L334.19,93.69 L334.31,93.21 L334.42,92.74 L334.54,92.26 L334.66,91.78 L334.77,91.30 L334.89,90.83 L335.01,90.35 L335.12,89.87 L335.24,89.39 L335.36,88.91 L335.48,88.43 L335.60,87.95 L335.72,87.47 L335.84,86.99 L335.97,86.51 L336.09,86.03 L336.21,85.55 L336.34,85.06 L336.46,84.58 L336.59,84.10 L336.72,83.61 L336.85,83.13 L336.98,82.64 L337.11,82.15 L337.24,81.67 L337.38,81.18 L337.51,80.69 L337.65,80.21 L337.79,79.72 L337.93,79.23 L338.07,78.74 L338.21,78.25 L338.36,77.76 L338.51,77.27 L338.65,76.77 L338.80,76.28 L338.96,75.79 L339.11,75.29 L339.27,74.80 L339.42,74.30 L339.58,73.81 L339.75,73.31 L339.91,72.82 L340.08,72.32 L340.24,71.82 L340.42,71.32 L340.59,70.82 L340.76,70.32 L340.94,69.82 L341.12,69.32 L341.30,68.82 L341.49,68.31 L341.68,67.81 L341.87,67.31 L342.06,66.80 L342.26,66.29 L342.46,65.79 L342.66,65.28 L342.86,64.77 L343.07,64.26 L343.28,63.75 L343.49,63.24 L343.71,62.73 L343.93,62.22 L344.15,61.72 L344.38,61.21 L344.61,60.72 L344.84,60.22 L345.08,59.73 L345.32,59.25 L345.57,58.78 L345.82,58.32 L346.08,57.86 L346.34,57.42 L346.60,56.99 L346.87,56.58 L347.15,56.17 L347.43,55.79 L347.71,55.41 L348.00,55.06 L348.30,54.72 L348.60,54.41 L348.91,54.11 L349.23,53.83 L349.55,53.58 L349.88,53.35 L350.21,53.14 L350.55,52.96 L350.90,52.81 L351.25,52.68 L351.61,52.58 L351.98,52.51 L352.35,52.46 L352.73,52.44 L353.12,52.45 L353.50,52.48 L353.89,52.53 L354.28,52.61 L354.68,52.71 L355.07,52.84 L355.47,52.98 L355.86,53.15 L356.25,53.33 L356.65,53.54 L357.03,53.76 L357.42,54.00 L357.80,54.26 L358.18,54.53 L358.55,54.83 L358.92,55.13 L359.27,55.45 L359.63,55.79 L359.97,56.13 L360.31,56.49 L360.63,56.87 L360.95,57.25 L361.25,57.64 L361.55,58.05 L361.84,58.46 L362.12,58.88 L362.39,59.32 L362.66,59.76 L362.92,60.20 L363.17,60.66 L363.42,61.12 L363.66,61.59 L363.89,62.06 L364.12,62.54 L364.35,63.03 L364.57,63.52 L364.79,64.01 L365.00,64.51 L365.21,65.01 L365.42,65.51 L365.63,66.01 L365.84,66.52 L366.04,67.02 L366.24,67.53 L366.44,68.04 L366.64,68.54 L366.85,69.05 L367.05,69.55 L367.25,70.05 L367.46,70.55 L367.66,71.05 L367.87,71.54 L368.09,72.03 L368.30,72.52 L368.52,73.00 L368.74,73.47 L368.97,73.94 L369.20,74.41 L369.43,74.86 L369.67,75.31 L369.92,75.76 L370.17,76.19 L370.43,76.61 L370.70,77.03 L370.97,77.44 L371.25,77.84 L371.54,78.23 L371.83,78.61 L372.13,78.98 L372.44,79.35 L372.76,79.71 L373.08,80.05 L373.41,80.40 L373.75,80.73 L374.09,81.06 L374.44,81.38 L374.80,81.69 L375.17,81.99 L375.54,82.29 L375.92,82.58 L376.31,82.86 L376.71,83.13 L377.12,83.40 L377.53,83.67 L377.94,83.93 L378.37,84.18 L378.79,84.43 L379.22,84.68 L379.65,84.93 L380.08,85.18 L380.51,85.42 L380.94,85.67 L381.37,85.92 L381.80,86.17 L382.23,86.43 L382.65,86.69 L383.06,86.95 L383.48,87.22 L383.88,87.50 L384.28,87.78 L384.66,88.07 L385.05,88.37 L385.42,88.68 L385.79,88.99 L386.14,89.31 L386.50,89.64 L386.84,89.97 L387.18,90.31 L387.51,90.66 L387.83,91.01 L388.15,91.37 L388.46,91.74 L388.77,92.11 L389.06,92.49 L389.36,92.87 L389.64,93.25 L389.93,93.64 L390.20,94.04 L390.47,94.44 L390.74,94.84 L390.99,95.25 L391.25,95.66 L391.50,96.08 L391.74,96.50 L391.98,96.92 L392.22,97.35 L392.45,97.78 L392.68,98.21 L392.90,98.65 L393.12,99.09 L393.33,99.53 L393.54,99.97 L393.75,100.41 L393.95,100.86 L394.15,101.31 L394.35,101.76 L394.54,102.21 L394.73,102.67 L394.92,103.12 L395.10,103.58 L395.28,104.04 L395.46,104.50 L395.64,104.96 L395.81,105.43 L395.98,105.89 L396.14,106.36 L396.30,106.83 L396.46,107.30 L396.62,107.77 L396.77,108.24 L396.93,108.71 L397.08,109.19 L397.22,109.67 L397.37,110.14 L397.51,110.62 L397.65,111.10 L397.79,111.59 L397.92,112.07 L398.06,112.55 L398.19,113.04 L398.32,113.52 L398.45,114.01 L398.57,114.50 L398.70,114.98 L398.82,115.47 L398.94,115.96 L399.06,116.45 L399.17,116.95 L399.29,117.44 L399.40,117.93 L399.52,118.42 L399.63,118.92 L399.74,119.41 L399.85,119.91 L399.96,120.40 L400.06,120.90 L400.17,121.40 L400.27,121.89 L400.38,122.39 L400.48,122.89 L400.58,123.39 L400.68,123.88 L400.79,124.38 L400.89,124.88 L400.98,125.38 L401.08,125.88 L401.18,126.38 L401.28,126.87 L401.38,127.37 L401.48,127.87 L401.57,128.37 L401.67,128.87 L401.77,129.37 L401.86,129.87 L401.96,130.36 L402.06,130.86 L402.15,131.36 L402.25,131.86 L402.35,132.35 L402.45,132.85 L402.54,133.35 L402.64,133.84 L402.74,134.34 L402.83,134.84 L402.93,135.33 L403.03,135.83 L403.13,136.32 L403.22,136.82 L403.32,137.31 L403.42,137.81 L403.51,138.30 L403.61,138.80 L403.71,139.29 L403.81,139.78 L403.90,140.28 L404.00,140.77 L404.10,141.26 L404.20,141.76 L404.29,142.25 L404.39,142.74 L404.49,143.24 L404.59,143.73 L404.68,144.22 L404.78,144.71 L404.88,145.20 L404.97,145.70 L405.07,146.19 L405.17,146.68 L405.27,147.17 L405.36,147.66 L405.46,148.15 L405.56,148.64 L405.66,149.13 L405.75,149.63 L405.85,150.12 L405.95,150.61 L406.05,151.10 L406.14,151.59 L406.24,152.08 L406.34,152.57 L406.44,153.06 L406.53,153.54 L406.63,154.03 L406.73,154.52 L406.83,155.01 L406.92,155.50 L407.02,155.99 L407.12,156.48 L407.22,156.97 L407.31,157.46 L407.41,157.95 L407.51,158.43 L407.60,158.92 L407.70,159.41 L407.80,159.90 L407.90,160.39 L407.99,160.87 L408.09,161.36 L408.19,161.85 L408.29,162.34 L408.38,162.83 L408.48,163.31 L408.58,163.80 L408.67,164.29 L408.77,164.77 L408.87,165.26 L408.97,165.75 L409.06,166.24 L409.16,166.72 L409.26,167.21 L409.35,167.70 L409.45,168.18 L409.55,168.67 L409.65,169.16 L409.74,169.64 L409.84,170.13 L409.94,170.62 L410.03,171.10 L410.13,171.59 L410.23,172.08 L410.32,172.56 L410.42,173.05 L410.52,173.54 L410.62,174.02 L410.71,174.51 L410.81,175.00 L410.91,175.48 L411.00,175.97 L411.10,176.45 L411.20,176.94 L411.29,177.43 L411.39,177.91 L411.48,178.40 L411.58,178.88 L411.68,179.37 L411.77,179.86 L411.87,180.34 L411.97,180.83 L412.06,181.32 L412.16,181.80 L412.26,182.29 L412.35,182.77 L412.45,183.26 L412.54,183.75 L412.64,184.23 L412.74,184.72 L412.83,185.21 L412.93,185.69 L413.02,186.18 L413.12,186.67 L413.22,187.15 L413.31,187.64 L413.41,188.12 L413.50,188.61 L413.60,189.10 L413.70,189.58 L413.79,190.07 L413.89,190.56 L413.98,191.04 L414.08,191.53 L414.17,192.02 L414.27,192.51 L414.36,192.99 L414.46,193.48 L414.55,193.97 L414.65,194.45 L414.74,194.94 L414.84,195.43 L414.93,195.92 L415.03,196.40 L415.12,196.89 L415.22,197.38 L415.31,197.87 L415.41,198.35 L415.50,198.84 L415.60,199.33 L415.69,199.82 L415.79,200.31 L415.88,200.80 L415.98,201.28 L416.07,201.77 L416.17,202.26 L416.26,202.75 L416.35,203.24 L416.45,203.73 L416.54,204.22 L416.64,204.71 L416.73,205.20 L416.82,205.68 L416.92,206.17 L417.01,206.66 L417.10,207.15 L417.20,207.64 L417.29,208.13 L417.39,208.62 L417.48,209.11 L417.57,209.61 L417.67,210.10 L417.76,210.59 L417.85,211.08 L417.95,211.57 L418.04,212.06 L418.13,212.55 L418.22,213.04 L418.32,213.53 L418.41,214.03 L418.50,214.52 L418.59,215.01 L418.69,215.50 L418.78,216.00 L418.87,216.49 L418.96,216.98 L419.06,217.47 L419.15,217.97 L419.24,218.46 L419.33,218.95 L419.43,219.45 L419.52,219.94 L419.61,220.44 L419.70,220.93 L419.79,221.42 L419.89,221.92 L419.98,222.41 L420.07,222.91 L420.16,223.40 L420.25,223.90 L420.35,224.39 L420.44,224.89 L420.53,225.38 L420.62,225.88 L420.72,226.37 L420.81,226.87 L420.90,227.36 L421.00,227.86 L421.09,228.35 L421.18,228.85 L421.28,229.35 L421.37,229.84 L421.47,230.34 L421.56,230.83 L421.65,231.33 L421.75,231.82 L421.84,232.32 L421.94,232.81 L422.04,233.31 L422.13,233.81 L422.23,234.30 L422.32,234.80 L422.42,235.29 L422.52,235.79 L422.62,236.28 L422.71,236.78 L422.81,237.27 L422.91,237.77 L423.01,238.26 L423.11,238.76 L423.21,239.25 L423.31,239.75 L423.41,240.24 L423.51,240.74 L423.62,241.23 L423.72,241.72 L423.82,242.22 L423.92,242.71 L424.03,243.21 L424.13,243.70 L424.24,244.19 L424.34,244.69 L424.45,245.18 L424.55,245.67 L424.66,246.17 L424.77,246.66 L424.88,247.15 L424.99,247.64 L425.10,248.14 L425.21,248.63 L425.32,249.12 L425.43,249.61 L425.54,250.10 L425.65,250.59 L425.77,251.09 L425.88,251.58 L425.99,252.07 L426.11,252.56 L426.23,253.05 L426.34,253.54 L426.46,254.02 L426.58,254.51 L426.70,255.00 L426.82,255.49 L426.94,255.98 L427.06,256.47 L427.18,256.95 L427.31,257.44 L427.43,257.93 L427.56,258.42 L427.68,258.90 L427.81,259.39 L427.94,259.87 L428.06,260.36 L428.19,260.84 L428.32,261.33 L428.46,261.81 L428.59,262.30 L428.72,262.78 L428.86,263.26 L428.99,263.74 L429.13,264.23 L429.26,264.71 L429.40,265.19 L429.54,265.67 L429.68,266.15 L429.82,266.63 L429.96,267.11 L430.11,267.59 L430.25,268.07 L430.40,268.55 L430.54,269.02 L430.69,269.50 L430.84,269.98 L430.99,270.46 L431.14,270.93 L431.29,271.41 L431.45,271.88 L431.60,272.36 L431.76,272.83 L431.91,273.30 L432.07,273.78 L432.23,274.25 L432.39,274.72 L432.55,275.19 L432.72,275.66 L432.88,276.13 L433.05,276.60 L433.21,277.07 L433.38,277.54 L433.55,278.01 L433.72,278.48 L433.90,278.94 L434.07,279.41 L434.24,279.87 L434.42,280.34 L434.60,280.80 L434.78,281.27 L434.96,281.73 L435.14,282.19 L435.32,282.66 L435.51,283.12 L435.69,283.58 L435.88,284.04 L436.07,284.50 L436.26,284.96 L436.45,285.41 L436.65,285.87 L436.84,286.33 L437.04,286.78 L437.24,287.24 L437.44,287.69 L437.64,288.15 L437.84,288.60 L438.04,289.05 L438.25,289.50 L438.46,289.95 L438.67,290.40 L438.88,290.85 L439.09,291.30 L439.30,291.75 L439.52,292.20 L439.74,292.64 L439.96,293.09 L440.18,293.54 L440.40,293.98 L440.62,294.42 L440.85,294.86 L441.08,295.31 L441.31,295.75 L441.54,296.19 L441.77,296.63 L442.00,297.06 L442.24,297.50 L442.48,297.94 L442.72,298.38 L442.96,298.81 L443.20,299.24 L443.45,299.68 L443.70,300.11 L443.95,300.54 L444.20,300.97 L444.45,301.40 L444.71,301.83 L444.96,302.26 L445.22,302.69 L445.48,303.11 L445.75,303.54 L446.01,303.96 L446.28,304.38 L446.55,304.81 L446.82,305.23 L447.09,305.65 L447.36,306.07 L447.64,306.48 L447.92,306.90 L448.20,307.31 L448.48,307.73 L448.77,308.14 L449.05,308.55 L449.34,308.96 L449.63,309.37 L449.93,309.77 L450.22,310.18 L450.52,310.58 L450.82,310.98 L451.12,311.38 L451.43,311.77 L451.73,312.17 L452.04,312.56 L452.35,312.95 L452.66,313.34 L452.98,313.73 L453.30,314.11 L453.62,314.50 L453.94,314.88 L454.26,315.25 L454.59,315.63 L454.92,316.00 L455.25,316.37 L455.58,316.74 L455.92,317.11 L456.26,317.47 L456.60,317.83 L456.94,318.19 L457.29,318.54 L457.64,318.89 L457.99,319.24 L458.34,319.59 L458.70,319.93 L459.05,320.27 L459.41,320.61 L459.78,320.94 L460.14,321.28 L460.51,321.60 L460.88,321.93 L461.25,322.25 L461.63,322.57 L462.01,322.88 L462.39,323.19 L462.77,323.50 L463.16,323.81 L463.54,324.11 L463.94,324.41 L464.33,324.70 L464.73,324.99 L465.12,325.28 L465.53,325.56 L465.93,325.84 L466.34,326.11 L466.75,326.38 L467.16,326.65 L467.58,326.91 L467.99,327.17 L468.41,327.43 L468.84,327.68 L469.26,327.92 L469.69,328.16 L470.12,328.40 L470.56,328.64 L471.00,328.86 L471.44,329.09 L471.88,329.31 L472.33,329.52 L472.78,329.73 L473.23,329.94 L473.68,330.14 L474.14,330.34 L474.60,330.53 L475.07,330.72 L475.53,330.90 L476.00,331.08 L476.47,331.25 L476.95,331.42 L477.43,331.58 L477.91,331.74 L478.39,331.89 L478.88,332.03 L479.37,332.18 L479.87,332.31 L480.36,332.44 L480.86,332.57 L481.36,332.70 L481.86,332.82 L482.37,332.94 L482.87,333.05 L483.38,333.17 L483.88,333.28 L484.39,333.39 L484.90,333.50 L485.41,333.61 L485.92,333.72 L486.43,333.83 L486.93,333.94 L487.44,334.06 L487.95,334.17 L488.45,334.29 L488.96,334.40 L489.46,334.52 L489.96,334.65 L490.46,334.77 L490.95,334.91 L491.45,335.04 L491.94,335.18 L492.43,335.33 L492.91,335.48 L493.39,335.63 L493.87,335.80 L494.34,335.96 L494.81,336.14 L495.27,336.32 L495.73,336.52 L496.19,336.72 L496.64,336.92 L497.09,337.14 L497.53,337.36 L497.97,337.59 L498.40,337.83 L498.83,338.07 L499.26,338.32 L499.68,338.57 L500.10,338.83 L500.52,339.09 L500.94,339.36 L501.36,339.63 L501.77,339.90 L502.18,340.18 L502.59,340.46 L503.00,340.74 L503.41,341.02 L503.82,341.30 L504.23,341.59 L504.64,341.88 L505.05,342.16 L505.46,342.45 L505.86,342.74 L506.27,343.03 L506.68,343.32 L507.09,343.61 L507.49,343.90 L507.90,344.20 L508.31,344.49 L508.72,344.78 L509.12,345.07 L509.53,345.36 L509.94,345.66 L510.35,345.95 L510.76,346.24 L511.17,346.53 L511.58,346.82 L511.99,347.11 L512.40,347.40 L512.81,347.69 L513.22,347.98 L513.63,348.26 L514.05,348.55 L514.46,348.83 L514.87,349.11 L515.29,349.39 L515.70,349.67 L516.12,349.95 L516.54,350.23 L516.96,350.50 L517.38,350.77 L517.80,351.04 L518.22,351.31 L518.64,351.57 L519.07,351.84 L519.49,352.10 L519.92,352.36 L520.34,352.61 L520.77,352.86 L521.20,353.11 L521.63,353.36 L522.07,353.60 L522.50,353.84 L522.94,354.08 L523.37,354.31 L523.81,354.54 L524.25,354.77 L524.69,354.99 L525.14,355.21 L525.58,355.43 L526.03,355.64 L526.48,355.85 L526.93,356.05 L527.38,356.25 L527.83,356.45 L528.29,356.65 L528.75,356.84 L529.20,357.03 L529.66,357.21 L530.12,357.39 L530.58,357.57 L531.05,357.75 L531.51,357.92 L531.98,358.09 L532.45,358.25 L532.91,358.42 L533.38,358.58 L533.85,358.73 L534.33,358.89 L534.80,359.04 L535.27,359.19 L535.75,359.34 L536.22,359.48 L536.70,359.62 L537.18,359.76 L537.66,359.90 L538.14,360.04 L538.62,360.17 L539.10,360.30 L539.59,360.43 L540.07,360.55 L540.56,360.68 L541.04,360.80 L541.53,360.92 L542.02,361.04 L542.50,361.15 L542.99,361.26 L543.48,361.38 L543.97,361.49 L544.46,361.60 L544.95,361.70 L545.45,361.81 L545.94,361.91 L546.43,362.01 L546.93,362.11 L547.42,362.21 L547.91,362.31 L548.41,362.41 L548.91,362.50 L549.40,362.60 L549.90,362.69 L550.39,362.78 L550.89,362.87 L551.39,362.96 L551.89,363.05 L552.38,363.13 L552.88,363.22 L553.38,363.31 L553.88,363.39 L554.38,363.48 L554.88,363.56 L555.37,363.64 L555.87,363.72 L556.37,363.81 L556.87,363.89 L557.37,363.97 L557.87,364.05 L558.37,364.13 L558.87,364.21 L559.37,364.29 L559.87,364.36 L560.36,364.44 L560.86,364.52 L561.36,364.60 L561.86,364.68 L562.36,364.76 L562.85,364.84 L563.35,364.91 L563.85,364.99 L564.34,365.07 L564.84,365.15 L565.34,365.23 L565.83,365.31 L566.33,365.39 L566.82,365.47 L567.31,365.55 L567.81,365.64 L568.30,365.72 L568.79,365.80 L569.28,365.89 L569.78,365.97 L570.27,366.06 L570.76,366.14 L571.24,366.23 L571.73,366.32 L572.22,366.41 L572.71,366.50 L573.19,366.59 L573.68,366.68 L574.16,366.77 L574.65,366.87 L575.13,366.97 L575.61,367.06 L576.09,367.16 L576.57,367.26 L577.05,367.36 L577.53,367.47 L578.01,367.57 L578.48,367.68 L578.96,367.79" fill="none" stroke="#0000ff" stroke-width="2.15" stroke-linejoin="round"/>
<path d="M54.85,360.13 L55.29,359.93 L55.73,359.73 L56.17,359.53 L56.60,359.33 L57.04,359.12 L57.48,358.90 L57.92,358.69 L58.36,358.47 L58.79,358.24 L59.23,358.02 L59.67,357.79 L60.11,357.56 L60.54,357.32 L60.98,357.08 L61.42,356.85 L61.86,356.60 L62.29,356.36 L62.73,356.12 L63.17,355.87 L63.61,355.62 L64.04,355.37 L64.48,355.12 L64.92,354.87 L65.36,354.62 L65.80,354.36 L66.23,354.11 L66.67,353.86 L67.11,353.60 L67.55,353.35 L67.99,353.09 L68.43,352.84 L68.87,352.58 L69.31,352.33 L69.76,352.08 L70.20,351.82 L70.64,351.57 L71.08,351.32 L71.53,351.07 L71.97,350.83 L72.42,350.58 L72.86,350.34 L73.31,350.09 L73.76,349.85 L74.20,349.62 L74.65,349.38 L75.10,349.15 L75.55,348.92 L76.00,348.69 L76.45,348.46 L76.90,348.24 L77.36,348.02 L77.81,347.81 L78.26,347.60 L78.72,347.39 L79.18,347.18 L79.63,346.98 L80.09,346.79 L80.55,346.59 L81.01,346.41 L81.48,346.22 L81.94,346.05 L82.40,345.87 L82.87,345.70 L83.33,345.54 L83.80,345.38 L84.27,345.23 L84.74,345.09 L85.21,344.94 L85.68,344.81 L86.16,344.68 L86.63,344.55 L87.11,344.43 L87.59,344.32 L88.06,344.21 L88.54,344.11 L89.02,344.01 L89.50,343.91 L89.98,343.82 L90.47,343.74 L90.95,343.66 L91.44,343.58 L91.92,343.51 L92.41,343.44 L92.90,343.38 L93.38,343.32 L93.87,343.27 L94.36,343.22 L94.85,343.17 L95.35,343.13 L95.84,343.10 L96.33,343.06 L96.82,343.03 L97.32,343.01 L97.81,342.99 L98.31,342.97 L98.80,342.96 L99.30,342.95 L99.80,342.94 L100.30,342.94 L100.79,342.94 L101.29,342.94 L101.79,342.95 L102.29,342.96 L102.79,342.97 L103.29,342.98 L103.79,343.00 L104.29,343.03 L104.79,343.05 L105.30,343.08 L105.80,343.11 L106.30,343.14 L106.80,343.18 L107.31,343.22 L107.81,343.26 L108.31,343.30 L108.81,343.35 L109.32,343.40 L109.82,343.45 L110.33,343.50 L110.83,343.55 L111.33,343.61 L111.84,343.67 L112.34,343.73 L112.84,343.79 L113.35,343.86 L113.85,343.92 L114.36,343.99 L114.86,344.06 L115.36,344.13 L115.87,344.20 L116.37,344.28 L116.87,344.35 L117.37,344.43 L117.88,344.51 L118.38,344.58 L118.88,344.66 L119.38,344.75 L119.88,344.83 L120.38,344.91 L120.89,344.99 L121.39,345.08 L121.89,345.16 L122.39,345.25 L122.89,345.33 L123.38,345.42 L123.88,345.50 L124.38,345.59 L124.88,345.67 L125.38,345.76 L125.88,345.85 L126.37,345.93 L126.87,346.01 L127.37,346.10 L127.87,346.18 L128.36,346.26 L128.86,346.35 L129.35,346.43 L129.85,346.51 L130.34,346.58 L130.84,346.66 L131.33,346.74 L131.83,346.81 L132.32,346.88 L132.82,346.96 L133.31,347.03 L133.80,347.09 L134.30,347.16 L134.79,347.22 L135.28,347.28 L135.77,347.34 L136.27,347.40 L136.76,347.45 L137.25,347.51 L137.74,347.56 L138.23,347.60 L138.72,347.65 L139.21,347.69 L139.70,347.72 L140.19,347.76 L140.68,347.79 L141.17,347.82 L141.66,347.84 L142.15,347.86 L142.64,347.88 L143.13,347.90 L143.61,347.90 L144.10,347.91 L144.59,347.91 L145.08,347.91 L145.56,347.90 L146.05,347.89 L146.54,347.88 L147.02,347.86 L147.51,347.83 L147.99,347.81 L148.48,347.77 L148.96,347.73 L149.45,347.69 L149.93,347.64 L150.42,347.59 L150.90,347.53 L151.39,347.47 L151.87,347.40 L152.36,347.34 L152.84,347.26 L153.32,347.19 L153.81,347.11 L154.29,347.02 L154.78,346.94 L155.26,346.85 L155.74,346.75 L156.23,346.66 L156.71,346.56 L157.20,346.46 L157.68,346.36 L158.17,346.25 L158.65,346.15 L159.14,346.04 L159.62,345.93 L160.11,345.81 L160.60,345.70 L161.08,345.59 L161.57,345.47 L162.06,345.36 L162.55,345.24 L163.03,345.12 L163.52,345.00 L164.01,344.88 L164.50,344.77 L164.99,344.65 L165.48,344.53 L165.98,344.41 L166.47,344.29 L166.96,344.17 L167.45,344.06 L167.95,343.94 L168.44,343.82 L168.94,343.71 L169.43,343.59 L169.93,343.48 L170.42,343.36 L170.92,343.25 L171.42,343.13 L171.92,343.02 L172.41,342.90 L172.91,342.79 L173.41,342.67 L173.91,342.55 L174.40,342.44 L174.90,342.32 L175.40,342.21 L175.90,342.09 L176.40,341.97 L176.90,341.86 L177.39,341.74 L177.89,341.62 L178.39,341.50 L178.89,341.38 L179.38,341.26 L179.88,341.14 L180.38,341.02 L180.88,340.89 L181.37,340.77 L181.87,340.65 L182.36,340.52 L182.86,340.40 L183.35,340.27 L183.85,340.14 L184.34,340.01 L184.83,339.88 L185.32,339.75 L185.82,339.62 L186.31,339.48 L186.80,339.35 L187.29,339.21 L187.77,339.07 L188.26,338.93 L188.75,338.79 L189.23,338.65 L189.72,338.50 L190.20,338.36 L190.69,338.21 L191.17,338.06 L191.65,337.91 L192.13,337.76 L192.61,337.60 L193.09,337.44 L193.56,337.28 L194.04,337.12 L194.51,336.96 L194.98,336.80 L195.45,336.63 L195.92,336.46 L196.39,336.29 L196.86,336.11 L197.32,335.94 L197.79,335.76 L198.25,335.58 L198.71,335.40 L199.17,335.21 L199.63,335.02 L200.09,334.83 L200.54,334.64 L200.99,334.44 L201.44,334.24 L201.89,334.04 L202.34,333.83 L202.78,333.63 L203.23,333.42 L203.67,333.20 L204.11,332.99 L204.55,332.77 L204.98,332.55 L205.42,332.32 L205.85,332.09 L206.28,331.86 L206.70,331.62 L207.13,331.39 L207.55,331.14 L207.97,330.90 L208.39,330.65 L208.80,330.40 L209.22,330.14 L209.63,329.88 L210.04,329.62 L210.44,329.35 L210.85,329.08 L211.25,328.81 L211.65,328.53 L212.04,328.25 L212.43,327.97 L212.83,327.68 L213.22,327.39 L213.60,327.09 L213.99,326.79 L214.37,326.49 L214.75,326.19 L215.13,325.88 L215.50,325.57 L215.87,325.25 L216.25,324.94 L216.61,324.62 L216.98,324.29 L217.35,323.97 L217.71,323.64 L218.07,323.30 L218.43,322.97 L218.78,322.63 L219.14,322.29 L219.49,321.95 L219.84,321.60 L220.19,321.25 L220.53,320.90 L220.88,320.55 L221.22,320.19 L221.56,319.83 L221.90,319.47 L222.24,319.11 L222.57,318.74 L222.90,318.37 L223.24,318.00 L223.57,317.63 L223.89,317.25 L224.22,316.87 L224.54,316.49 L224.87,316.11 L225.19,315.73 L225.51,315.34 L225.83,314.95 L226.14,314.56 L226.46,314.17 L226.77,313.78 L227.08,313.38 L227.39,312.99 L227.70,312.59 L228.01,312.19 L228.32,311.78 L228.62,311.38 L228.92,310.97 L229.22,310.57 L229.53,310.16 L229.82,309.75 L230.12,309.34 L230.42,308.92 L230.71,308.51 L231.01,308.09 L231.30,307.68 L231.59,307.26 L231.88,306.84 L232.17,306.42 L232.46,306.00 L232.74,305.58 L233.03,305.15 L233.31,304.73 L233.60,304.30 L233.88,303.88 L234.16,303.45 L234.44,303.02 L234.72,302.59 L235.00,302.16 L235.28,301.73 L235.55,301.30 L235.83,300.87 L236.10,300.44 L236.38,300.01 L236.65,299.57 L236.92,299.14 L237.19,298.71 L237.46,298.27 L237.73,297.84 L238.00,297.40 L238.27,296.97 L238.54,296.53 L238.80,296.09 L239.07,295.66 L239.34,295.22 L239.60,294.79 L239.87,294.35 L240.13,293.92 L240.39,293.48 L240.65,293.04 L240.92,292.61 L241.18,292.17 L241.44,291.74 L241.70,291.30 L241.96,290.87 L242.22,290.43 L242.48,290.00 L242.74,289.57 L243.00,289.13 L243.26,288.70 L243.51,288.27 L243.77,287.84 L244.03,287.41 L244.29,286.97 L244.54,286.54 L244.80,286.12 L245.05,285.69 L245.31,285.26 L245.56,284.83 L245.82,284.40 L246.07,283.98 L246.33,283.55 L246.58,283.12 L246.83,282.70 L247.09,282.27 L247.34,281.84 L247.59,281.42 L247.84,280.99 L248.09,280.57 L248.34,280.14 L248.59,279.72 L248.84,279.29 L249.09,278.87 L249.33,278.44 L249.58,278.02 L249.83,277.59 L250.07,277.17 L250.32,276.75 L250.56,276.32 L250.80,275.90 L251.05,275.47 L251.29,275.05 L251.53,274.62 L251.77,274.20 L252.01,273.77 L252.25,273.35 L252.49,272.92 L252.72,272.49 L252.96,272.07 L253.19,271.64 L253.43,271.21 L253.66,270.79 L253.90,270.36 L254.13,269.93 L254.36,269.50 L254.59,269.07 L254.82,268.64 L255.04,268.21 L255.27,267.78 L255.50,267.35 L255.72,266.92 L255.94,266.49 L256.17,266.06 L256.39,265.62 L256.61,265.19 L256.83,264.75 L257.05,264.32 L257.26,263.88 L257.48,263.44 L257.69,263.01 L257.91,262.57 L258.12,262.13 L258.33,261.69 L258.54,261.25 L258.75,260.80 L258.96,260.36 L259.16,259.92 L259.37,259.47 L259.57,259.03 L259.77,258.58 L259.97,258.13 L260.17,257.68 L260.37,257.23 L260.57,256.78 L260.76,256.33 L260.95,255.88 L261.15,255.42 L261.34,254.97 L261.53,254.51 L261.71,254.05 L261.90,253.59 L262.09,253.13 L262.27,252.67 L262.45,252.20 L262.63,251.74 L262.81,251.27 L262.99,250.80 L263.16,250.34 L263.34,249.86 L263.51,249.39 L263.68,248.92 L263.85,248.44 L264.01,247.97 L264.18,247.49 L264.34,247.01 L264.51,246.53 L264.67,246.04 L264.82,245.56 L264.98,245.07 L265.14,244.59 L265.29,244.10 L265.45,243.61 L265.60,243.12 L265.75,242.63 L265.90,242.14 L266.05,241.65 L266.19,241.15 L266.34,240.66 L266.49,240.16 L266.63,239.67 L266.77,239.17 L266.92,238.68 L267.06,238.18 L267.20,237.68 L267.34,237.19 L267.48,236.69 L267.62,236.19 L267.76,235.69 L267.89,235.20 L268.03,234.70 L268.17,234.20 L268.31,233.71 L268.44,233.21 L268.58,232.71 L268.71,232.22 L268.85,231.72 L268.98,231.23 L269.12,230.73 L269.25,230.24 L269.39,229.75 L269.53,229.25 L269.66,228.76 L269.80,228.27 L269.93,227.79 L270.07,227.30 L270.20,226.81 L270.34,226.33 L270.48,225.84 L270.61,225.36 L270.75,224.88 L270.89,224.40 L271.03,223.92 L271.17,223.44 L271.31,222.97 L271.45,222.49 L271.59,222.02 L271.73,221.55 L271.87,221.07 L272.01,220.60 L272.15,220.14 L272.30,219.67 L272.44,219.20 L272.58,218.73 L272.72,218.27 L272.87,217.80 L273.01,217.34 L273.15,216.87 L273.29,216.41 L273.44,215.95 L273.58,215.49 L273.72,215.02 L273.87,214.56 L274.01,214.10 L274.15,213.64 L274.30,213.18 L274.44,212.71 L274.58,212.25 L274.72,211.79 L274.87,211.33 L275.01,210.87 L275.15,210.40 L275.29,209.94 L275.43,209.48 L275.57,209.02 L275.71,208.55 L275.85,208.09 L275.99,207.62 L276.13,207.15 L276.27,206.69 L276.41,206.22 L276.54,205.75 L276.68,205.28 L276.82,204.81 L276.95,204.34 L277.09,203.87 L277.22,203.39 L277.36,202.92 L277.49,202.44 L277.62,201.97 L277.75,201.49 L277.88,201.01 L278.01,200.52 L278.14,200.04 L278.27,199.55 L278.39,199.07 L278.52,198.58 L278.65,198.09 L278.77,197.60 L278.89,197.10 L279.01,196.61 L279.14,196.11 L279.26,195.61 L279.38,195.11 L279.50,194.60 L279.62,194.10 L279.73,193.60 L279.85,193.09 L279.97,192.59 L280.09,192.08 L280.21,191.57 L280.33,191.06 L280.45,190.56 L280.57,190.05 L280.69,189.54 L280.81,189.03 L280.94,188.52 L281.06,188.01 L281.19,187.50 L281.31,187.00 L281.44,186.49 L281.57,185.98 L281.70,185.48 L281.83,184.97 L281.96,184.47 L282.10,183.97 L282.24,183.47 L282.38,182.97 L282.52,182.47 L282.66,181.97 L282.81,181.48 L282.96,180.98 L283.11,180.49 L283.26,180.00 L283.42,179.52 L283.58,179.03 L283.74,178.55 L283.91,178.07 L284.08,177.60 L284.25,177.12 L284.42,176.65 L284.60,176.18 L284.79,175.72 L284.97,175.26 L285.17,174.80 L285.36,174.35 L285.56,173.90 L285.76,173.45 L285.97,173.01 L286.18,172.57 L286.40,172.13 L286.62,171.70 L286.85,171.28 L287.08,170.85 L287.31,170.44 L287.56,170.02 L287.80,169.62 L288.05,169.21 L288.31,168.82 L288.57,168.42 L288.84,168.04 L289.11,167.65 L289.39,167.28 L289.68,166.91 L289.97,166.54 L290.27,166.18 L290.57,165.83 L290.89,165.48 L291.20,165.14 L291.53,164.81 L291.86,164.48 L292.19,164.16 L292.54,163.84 L292.89,163.54 L293.25,163.24 L293.62,162.94 L293.99,162.66 L294.37,162.38 L294.76,162.10 L295.15,161.84 L295.56,161.58 L295.97,161.33 L296.39,161.09 L296.82,160.86 L297.25,160.64 L297.70,160.42 L298.15,160.21 L298.61,160.01 L299.08,159.82 L299.56,159.63 L300.04,159.45 L300.53,159.27 L301.02,159.10 L301.51,158.93 L302.00,158.76 L302.50,158.59 L302.99,158.42 L303.48,158.24 L303.97,158.06 L304.46,157.88 L304.94,157.69 L305.42,157.50 L305.89,157.30 L306.35,157.09 L306.80,156.87 L307.25,156.63 L307.68,156.39 L308.10,156.13 L308.51,155.86 L308.90,155.57 L309.28,155.27 L309.65,154.95 L310.00,154.61 L310.33,154.25 L310.65,153.87 L310.95,153.49 L311.24,153.08 L311.52,152.67 L311.78,152.24 L312.04,151.80 L312.29,151.35 L312.52,150.89 L312.76,150.43 L312.98,149.96 L313.20,149.49 L313.41,149.01 L313.62,148.53 L313.83,148.05 L314.04,147.58 L314.24,147.10 L314.44,146.62 L314.65,146.14 L314.85,145.67 L315.04,145.19 L315.24,144.71 L315.44,144.24 L315.63,143.76 L315.82,143.29 L316.02,142.82 L316.21,142.34 L316.39,141.87 L316.58,141.40 L316.77,140.93 L316.95,140.45 L317.13,139.98 L317.32,139.51 L317.50,139.04 L317.68,138.57 L317.85,138.10 L318.03,137.63 L318.21,137.16 L318.38,136.69 L318.55,136.22 L318.72,135.75 L318.90,135.29 L319.06,134.82 L319.23,134.35 L319.40,133.88 L319.57,133.41 L319.73,132.94 L319.89,132.48 L320.06,132.01 L320.22,131.54 L320.38,131.07 L320.54,130.60 L320.69,130.14 L320.85,129.67 L321.01,129.20 L321.16,128.73 L321.31,128.26 L321.47,127.80 L321.62,127.33 L321.77,126.86 L321.92,126.39 L322.07,125.92 L322.22,125.45 L322.36,124.98 L322.51,124.51 L322.65,124.04 L322.80,123.58 L322.94,123.10 L323.08,122.63 L323.23,122.16 L323.37,121.69 L323.51,121.22 L323.65,120.75 L323.78,120.28 L323.92,119.81 L324.06,119.33 L324.19,118.86 L324.33,118.39 L324.46,117.91 L324.60,117.44 L324.73,116.96 L324.86,116.49 L324.99,116.01 L325.13,115.53 L325.26,115.05 L325.38,114.58 L325.51,114.10 L325.64,113.62 L325.77,113.14 L325.90,112.66 L326.02,112.18 L326.15,111.70 L326.27,111.22 L326.40,110.73 L326.52,110.25 L326.65,109.77 L326.77,109.28 L326.90,108.80 L327.02,108.32 L327.14,107.83 L327.26,107.35 L327.39,106.86 L327.51,106.37 L327.63,105.89 L327.75,105.40 L327.87,104.91 L327.99,104.43 L328.12,103.94 L328.24,103.45 L328.36,102.96 L328.48,102.48 L328.60,101.99 L328.72,101.50 L328.84,101.01 L328.96,100.52 L329.08,100.03 L329.20,99.54 L329.33,99.05 L329.45,98.56 L329.57,98.07 L329.69,97.58 L329.81,97.10 L329.94,96.61 L330.06,96.12 L330.18,95.63 L330.30,95.14 L330.43,94.65 L330.55,94.16 L330.68,93.67 L330.80,93.18 L330.93,92.69 L331.05,92.20 L331.18,91.71 L331.31,91.22 L331.43,90.73 L331.56,90.25 L331.69,89.76 L331.82,89.27 L331.95,88.78 L332.08,88.29 L332.21,87.81 L332.34,87.32 L332.48,86.83 L332.61,86.34 L332.75,85.86 L332.88,85.37 L333.02,84.89 L333.15,84.40 L333.29,83.92 L333.43,83.43 L333.57,82.95 L333.71,82.46 L333.85,81.98 L334.00,81.50 L334.14,81.02 L334.29,80.53 L334.43,80.05 L334.58,79.57 L334.73,79.09 L334.88,78.61 L335.03,78.13 L335.18,77.65 L335.34,77.18 L335.49,76.70 L335.65,76.22 L335.80,75.75 L335.96,75.27 L336.12,74.80 L336.29,74.32 L336.45,73.85 L336.61,73.38 L336.78,72.90 L336.95,72.43 L337.12,71.96 L337.29,71.49 L337.46,71.02 L337.63,70.56 L337.81,70.09 L337.99,69.62 L338.17,69.16 L338.35,68.69 L338.53,68.23 L338.71,67.77 L338.90,67.30 L339.09,66.84 L339.28,66.38 L339.47,65.92 L339.66,65.47 L339.86,65.01 L340.06,64.55 L340.26,64.10 L340.46,63.65 L340.66,63.19 L340.87,62.74 L341.08,62.29 L341.29,61.84 L341.50,61.39 L341.71,60.95 L341.93,60.50 L342.15,60.05 L342.37,59.61 L342.59,59.17 L342.81,58.73 L343.04,58.29 L343.27,57.85 L343.50,57.41 L343.74,56.98 L343.98,56.54 L344.22,56.11 L344.46,55.68 L344.70,55.24 L344.95,54.81 L345.20,54.39 L345.45,53.97 L345.72,53.57 L345.99,53.20 L346.27,52.85 L346.57,52.55 L346.88,52.28 L347.21,52.07 L347.56,51.91 L347.93,51.82 L348.33,51.80 L348.73,51.84 L349.15,51.93 L349.58,52.07 L350.00,52.27 L350.42,52.50 L350.83,52.77 L351.23,53.07 L351.61,53.40 L351.96,53.75 L352.29,54.12 L352.61,54.51 L352.90,54.92 L353.18,55.35 L353.44,55.79 L353.69,56.25 L353.92,56.73 L354.14,57.21 L354.35,57.70 L354.55,58.21 L354.73,58.72 L354.91,59.24 L355.09,59.76 L355.26,60.28 L355.42,60.81 L355.58,61.34 L355.74,61.87 L355.89,62.39 L356.05,62.92 L356.21,63.44 L356.36,63.95 L356.51,64.47 L356.67,64.98 L356.82,65.49 L356.98,65.99 L357.13,66.50 L357.28,67.00 L357.43,67.50 L357.58,67.99 L357.74,68.49 L357.89,68.98 L358.04,69.47 L358.19,69.96 L358.33,70.45 L358.48,70.93 L358.63,71.42 L358.78,71.90 L358.93,72.38 L359.07,72.86 L359.22,73.34 L359.37,73.81 L359.51,74.29 L359.66,74.76 L359.80,75.23 L359.95,75.71 L360.09,76.18 L360.23,76.65 L360.38,77.12 L360.52,77.58 L360.66,78.05 L360.80,78.52 L360.94,78.99 L361.08,79.45 L361.22,79.92 L361.36,80.38 L361.50,80.85 L361.64,81.31 L361.78,81.78 L361.92,82.24 L362.06,82.71 L362.19,83.17 L362.33,83.64 L362.47,84.10 L362.60,84.57 L362.74,85.04 L362.87,85.50 L363.01,85.97 L363.14,86.44 L363.28,86.91 L363.41,87.38 L363.54,87.85 L363.68,88.32 L363.81,88.79 L363.94,89.27 L364.07,89.74 L364.20,90.22 L364.34,90.69 L364.47,91.17 L364.60,91.65 L364.73,92.13 L364.86,92.61 L364.99,93.09 L365.12,93.57 L365.25,94.06 L365.39,94.54 L365.52,95.03 L365.65,95.51 L365.78,96.00 L365.92,96.48 L366.05,96.97 L366.19,97.45 L366.32,97.94 L366.46,98.43 L366.60,98.92 L366.74,99.41 L366.88,99.89 L367.02,100.38 L367.16,100.87 L367.30,101.36 L367.45,101.85 L367.60,102.34 L367.74,102.83 L367.89,103.31 L368.04,103.80 L368.20,104.29 L368.35,104.78 L368.51,105.27 L368.67,105.75 L368.83,106.24 L368.99,106.73 L369.16,107.21 L369.32,107.70 L369.49,108.18 L369.67,108.67 L369.84,109.15 L370.02,109.63 L370.20,110.11 L370.39,110.59 L370.58,111.06 L370.78,111.53 L370.99,112.00 L371.21,112.46 L371.43,112.92 L371.67,113.36 L371.91,113.81 L372.17,114.24 L372.44,114.67 L372.72,115.09 L373.01,115.50 L373.32,115.90 L373.64,116.28 L373.98,116.64 L374.33,116.99 L374.70,117.31 L375.09,117.60 L375.49,117.87 L375.91,118.10 L376.35,118.29 L376.81,118.45 L377.29,118.56 L377.79,118.63 L378.30,118.68 L378.83,118.69 L379.36,118.69 L379.90,118.66 L380.44,118.63 L380.99,118.60 L381.53,118.57 L382.07,118.55 L382.60,118.54 L383.12,118.55 L383.63,118.58 L384.13,118.63 L384.62,118.69 L385.10,118.78 L385.57,118.88 L386.03,119.00 L386.49,119.14 L386.93,119.30 L387.36,119.47 L387.79,119.65 L388.20,119.85 L388.61,120.07 L389.00,120.30 L389.39,120.54 L389.77,120.80 L390.15,121.07 L390.51,121.35 L390.87,121.65 L391.22,121.95 L391.56,122.27 L391.89,122.60 L392.22,122.93 L392.53,123.28 L392.84,123.64 L393.15,124.00 L393.44,124.38 L393.73,124.76 L394.02,125.15 L394.29,125.55 L394.57,125.95 L394.83,126.36 L395.09,126.77 L395.34,127.19 L395.58,127.62 L395.82,128.05 L396.06,128.48 L396.29,128.92 L396.51,129.36 L396.73,129.80 L396.94,130.25 L397.15,130.70 L397.35,131.15 L397.55,131.61 L397.75,132.07 L397.94,132.53 L398.12,133.00 L398.30,133.47 L398.48,133.94 L398.66,134.41 L398.83,134.88 L399.00,135.36 L399.16,135.84 L399.32,136.32 L399.48,136.81 L399.64,137.29 L399.79,137.78 L399.94,138.26 L400.09,138.75 L400.23,139.24 L400.38,139.73 L400.52,140.22 L400.66,140.72 L400.80,141.21 L400.94,141.70 L401.07,142.20 L401.21,142.69 L401.34,143.19 L401.48,143.68 L401.61,144.18 L401.74,144.67 L401.88,145.16 L402.01,145.66 L402.14,146.15 L402.27,146.64 L402.40,147.14 L402.53,147.63 L402.66,148.12 L402.79,148.62 L402.92,149.11 L403.05,149.60 L403.18,150.09 L403.31,150.58 L403.44,151.07 L403.56,151.56 L403.69,152.05 L403.82,152.54 L403.94,153.03 L404.07,153.52 L404.20,154.01 L404.32,154.50 L404.45,154.99 L404.57,155.48 L404.70,155.97 L404.82,156.46 L404.95,156.95 L405.07,157.44 L405.20,157.92 L405.32,158.41 L405.44,158.90 L405.57,159.39 L405.69,159.87 L405.81,160.36 L405.93,160.85 L406.05,161.33 L406.18,161.82 L406.30,162.31 L406.42,162.79 L406.54,163.28 L406.66,163.76 L406.78,164.25 L406.90,164.74 L407.02,165.22 L407.14,165.71 L407.26,166.19 L407.38,166.68 L407.50,167.16 L407.61,167.65 L407.73,168.13 L407.85,168.61 L407.97,169.10 L408.09,169.58 L408.20,170.07 L408.32,170.55 L408.44,171.03 L408.55,171.52 L408.67,172.00 L408.79,172.48 L408.90,172.97 L409.02,173.45 L409.13,173.93 L409.25,174.42 L409.36,174.90 L409.48,175.38 L409.59,175.86 L409.71,176.35 L409.82,176.83 L409.94,177.31 L410.05,177.79 L410.16,178.27 L410.28,178.76 L410.39,179.24 L410.50,179.72 L410.62,180.20 L410.73,180.68 L410.84,181.17 L410.95,181.65 L411.07,182.13 L411.18,182.61 L411.29,183.09 L411.40,183.57 L411.51,184.05 L411.63,184.54 L411.74,185.02 L411.85,185.50 L411.96,185.98 L412.07,186.46 L412.18,186.94 L412.29,187.42 L412.40,187.90 L412.51,188.38 L412.62,188.87 L412.73,189.35 L412.84,189.83 L412.95,190.31 L413.06,190.79 L413.17,191.27 L413.28,191.75 L413.39,192.23 L413.50,192.71 L413.61,193.19 L413.72,193.67 L413.83,194.16 L413.94,194.64 L414.05,195.12 L414.15,195.60 L414.26,196.08 L414.37,196.56 L414.48,197.04 L414.59,197.52 L414.70,198.00 L414.80,198.48 L414.91,198.97 L415.02,199.45 L415.13,199.93 L415.24,200.41 L415.34,200.89 L415.45,201.37 L415.56,201.85 L415.67,202.33 L415.77,202.82 L415.88,203.30 L415.99,203.78 L416.10,204.26 L416.20,204.74 L416.31,205.22 L416.42,205.71 L416.53,206.19 L416.63,206.67 L416.74,207.15 L416.85,207.64 L416.95,208.12 L417.06,208.60 L417.17,209.08 L417.27,209.57 L417.38,210.05 L417.49,210.53 L417.60,211.01 L417.70,211.50 L417.81,211.98 L417.92,212.46 L418.02,212.95 L418.13,213.43 L418.24,213.91 L418.34,214.40 L418.45,214.88 L418.56,215.37 L418.66,215.85 L418.77,216.33 L418.88,216.82 L418.99,217.30 L419.09,217.79 L419.20,218.27 L419.31,218.76 L419.41,219.24 L419.52,219.73 L419.63,220.21 L419.73,220.70 L419.84,221.18 L419.95,221.67 L420.06,222.16 L420.16,222.64 L420.27,223.13 L420.38,223.62 L420.49,224.10 L420.59,224.59 L420.70,225.08 L420.81,225.56 L420.92,226.05 L421.02,226.54 L421.13,227.03 L421.24,227.52 L421.35,228.00 L421.46,228.49 L421.56,228.98 L421.67,229.47 L421.78,229.96 L421.89,230.45 L422.00,230.94 L422.11,231.43 L422.22,231.92 L422.32,232.41 L422.43,232.90 L422.54,233.39 L422.65,233.88 L422.76,234.37 L422.87,234.86 L422.98,235.36 L423.09,235.85 L423.20,236.34 L423.31,236.83 L423.42,237.33 L423.53,237.82 L423.64,238.31 L423.75,238.81 L423.86,239.30 L423.97,239.79 L424.08,240.29 L424.19,240.78 L424.30,241.28 L424.41,241.77 L424.52,242.27 L424.64,242.76 L424.75,243.26 L424.86,243.75 L424.97,244.25 L425.08,244.75 L425.20,245.24 L425.31,245.74 L425.42,246.24 L425.54,246.73 L425.65,247.23 L425.77,247.73 L425.88,248.22 L426.00,248.72 L426.12,249.22 L426.23,249.71 L426.35,250.21 L426.47,250.70 L426.59,251.20 L426.70,251.70 L426.82,252.19 L426.94,252.69 L427.06,253.19 L427.19,253.68 L427.31,254.18 L427.43,254.67 L427.55,255.17 L427.68,255.66 L427.80,256.16 L427.93,256.65 L428.05,257.15 L428.18,257.64 L428.31,258.14 L428.44,258.63 L428.57,259.12 L428.70,259.61 L428.83,260.11 L428.96,260.60 L429.10,261.09 L429.23,261.58 L429.36,262.07 L429.50,262.56 L429.64,263.05 L429.78,263.54 L429.92,264.03 L430.06,264.52 L430.20,265.01 L430.34,265.50 L430.48,265.98 L430.63,266.47 L430.77,266.96 L430.92,267.44 L431.07,267.93 L431.22,268.41 L431.37,268.89 L431.52,269.38 L431.67,269.86 L431.83,270.34 L431.98,270.82 L432.14,271.30 L432.30,271.78 L432.46,272.26 L432.62,272.74 L432.78,273.21 L432.94,273.69 L433.11,274.17 L433.27,274.64 L433.44,275.11 L433.61,275.59 L433.78,276.06 L433.96,276.53 L434.13,277.00 L434.31,277.47 L434.48,277.94 L434.66,278.40 L434.84,278.87 L435.02,279.34 L435.21,279.80 L435.39,280.26 L435.58,280.73 L435.77,281.19 L435.96,281.65 L436.15,282.11 L436.35,282.57 L436.54,283.02 L436.74,283.48 L436.94,283.93 L437.14,284.39 L437.34,284.84 L437.55,285.29 L437.76,285.74 L437.96,286.19 L438.18,286.64 L438.39,287.08 L438.60,287.53 L438.82,287.97 L439.04,288.41 L439.26,288.86 L439.48,289.30 L439.71,289.73 L439.93,290.17 L440.16,290.61 L440.39,291.04 L440.63,291.47 L440.86,291.91 L441.10,292.34 L441.34,292.76 L441.58,293.19 L441.83,293.62 L442.07,294.04 L442.32,294.46 L442.57,294.89 L442.83,295.30 L443.08,295.72 L443.34,296.14 L443.60,296.55 L443.86,296.97 L444.13,297.38 L444.40,297.79 L444.67,298.20 L444.94,298.60 L445.21,299.01 L445.49,299.41 L445.77,299.81 L446.05,300.21 L446.34,300.61 L446.63,301.01 L446.92,301.40 L447.21,301.79 L447.51,302.18 L447.80,302.57 L448.11,302.96 L448.41,303.35 L448.71,303.73 L449.02,304.11 L449.33,304.49 L449.65,304.87 L449.96,305.24 L450.28,305.62 L450.60,305.99 L450.93,306.36 L451.25,306.73 L451.58,307.10 L451.91,307.47 L452.24,307.83 L452.58,308.19 L452.91,308.55 L453.25,308.91 L453.59,309.27 L453.93,309.62 L454.28,309.98 L454.63,310.33 L454.98,310.68 L455.33,311.03 L455.68,311.38 L456.03,311.72 L456.39,312.07 L456.75,312.41 L457.11,312.75 L457.47,313.09 L457.84,313.43 L458.20,313.76 L458.57,314.10 L458.94,314.43 L459.31,314.76 L459.69,315.09 L460.06,315.42 L460.44,315.74 L460.81,316.07 L461.19,316.39 L461.57,316.71 L461.96,317.04 L462.34,317.35 L462.73,317.67 L463.11,317.99 L463.50,318.30 L463.89,318.61 L464.28,318.92 L464.67,319.23 L465.07,319.54 L465.46,319.85 L465.86,320.16 L466.25,320.46 L466.65,320.76 L467.05,321.06 L467.45,321.36 L467.85,321.66 L468.26,321.96 L468.66,322.25 L469.06,322.55 L469.47,322.84 L469.88,323.13 L470.28,323.42 L470.69,323.71 L471.10,324.00 L471.51,324.28 L471.92,324.57 L472.33,324.85 L472.75,325.13 L473.16,325.41 L473.57,325.69 L473.99,325.97 L474.40,326.24 L474.82,326.52 L475.24,326.79 L475.65,327.07 L476.07,327.34 L476.49,327.61 L476.91,327.88 L477.33,328.15 L477.74,328.42 L478.16,328.69 L478.58,328.95 L479.00,329.22 L479.42,329.49 L479.84,329.75 L480.26,330.02 L480.69,330.29 L481.11,330.55 L481.53,330.82 L481.95,331.08 L482.37,331.35 L482.79,331.61 L483.21,331.88 L483.63,332.14 L484.05,332.41 L484.47,332.68 L484.89,332.94 L485.31,333.21 L485.73,333.48 L486.15,333.75 L486.57,334.01 L486.99,334.28 L487.41,334.55 L487.83,334.83 L488.24,335.10 L488.66,335.37 L489.08,335.65 L489.49,335.92 L489.91,336.20 L490.32,336.48 L490.74,336.76 L491.15,337.04 L491.56,337.32 L491.97,337.60 L492.39,337.89 L492.80,338.17 L493.21,338.46 L493.62,338.75 L494.03,339.04 L494.44,339.32 L494.84,339.61 L495.25,339.91 L495.66,340.20 L496.07,340.49 L496.48,340.78 L496.88,341.07 L497.29,341.37 L497.70,341.66 L498.10,341.95 L498.51,342.25 L498.92,342.54 L499.32,342.84 L499.73,343.13 L500.14,343.43 L500.54,343.72 L500.95,344.01 L501.36,344.31 L501.76,344.60 L502.17,344.89 L502.58,345.19 L502.98,345.48 L503.39,345.77 L503.80,346.06 L504.21,346.35 L504.62,346.64 L505.02,346.93 L505.43,347.22 L505.84,347.50 L506.25,347.79 L506.67,348.07 L507.08,348.36 L507.49,348.64 L507.90,348.92 L508.31,349.20 L508.73,349.48 L509.14,349.75 L509.56,350.03 L509.97,350.30 L510.39,350.57 L510.81,350.84 L511.23,351.11 L511.64,351.38 L512.06,351.64 L512.49,351.90 L512.91,352.16 L513.33,352.42 L513.76,352.68 L514.18,352.93 L514.61,353.18 L515.03,353.43 L515.46,353.68 L515.89,353.92 L516.32,354.17 L516.75,354.40 L517.19,354.64 L517.62,354.87 L518.06,355.10 L518.50,355.33 L518.93,355.56 L519.37,355.78 L519.82,356.00 L520.26,356.21 L520.70,356.43 L521.15,356.63 L521.60,356.84 L522.05,357.04 L522.50,357.24 L522.95,357.44 L523.41,357.63 L523.86,357.82 L524.32,358.00 L524.78,358.18 L525.24,358.36 L525.70,358.53 L526.17,358.70 L526.63,358.87 L527.10,359.03 L527.57,359.19 L528.04,359.35 L528.52,359.50 L528.99,359.65 L529.47,359.80 L529.94,359.94 L530.42,360.08 L530.90,360.22 L531.38,360.35 L531.86,360.48 L532.35,360.61 L532.83,360.74 L533.32,360.86 L533.80,360.98 L534.29,361.10 L534.78,361.21 L535.27,361.33 L535.76,361.44 L536.26,361.54 L536.75,361.65 L537.24,361.75 L537.74,361.86 L538.24,361.95 L538.73,362.05 L539.23,362.15 L539.73,362.24 L540.23,362.33 L540.73,362.42 L541.23,362.51 L541.73,362.59 L542.23,362.68 L542.74,362.76 L543.24,362.84 L543.74,362.92 L544.25,363.00 L544.75,363.07 L545.26,363.15 L545.76,363.22 L546.27,363.30 L546.77,363.37 L547.28,363.44 L547.79,363.51 L548.29,363.57 L548.80,363.64 L549.31,363.71 L549.82,363.77 L550.32,363.84 L550.83,363.90 L551.34,363.97 L551.85,364.03 L552.35,364.09 L552.86,364.15 L553.37,364.21 L553.88,364.27 L554.38,364.33 L554.89,364.39 L555.40,364.45 L555.91,364.51 L556.41,364.57 L556.92,364.63 L557.42,364.69 L557.93,364.75 L558.44,364.81 L558.94,364.87 L559.44,364.93 L559.95,364.99 L560.45,365.05 L560.95,365.11 L561.46,365.17 L561.96,365.24 L562.46,365.30 L562.96,365.36 L563.46,365.43 L563.96,365.49 L564.46,365.56 L564.95,365.62 L565.45,365.69 L565.95,365.76 L566.44,365.83 L566.93,365.90 L567.43,365.97 L567.92,366.04 L568.41,366.12 L568.90,366.19 L569.39,366.27 L569.87,366.35 L570.36,366.43 L570.85,366.51 L571.33,366.59 L571.81,366.67 L572.29,366.76 L572.77,366.85 L573.25,366.94 L573.73,367.03 L574.21,367.12 L574.68,367.22 L575.15,367.31 L575.63,367.41 L576.10,367.51 L576.56,367.62 L577.03,367.72 L577.50,367.83 L577.96,367.94 L578.42,368.05 L578.88,368.17" fill="none" stroke="#ff0000" stroke-width="2.85" stroke-dasharray="6.3 1.6" stroke-linejoin="round"/>
<path d="M54.83,358.27 L55.26,358.02 L55.69,357.77 L56.12,357.52 L56.55,357.28 L56.98,357.03 L57.42,356.78 L57.85,356.53 L58.29,356.29 L58.72,356.04 L59.16,355.80 L59.60,355.55 L60.04,355.31 L60.48,355.07 L60.92,354.83 L61.36,354.59 L61.81,354.36 L62.25,354.12 L62.70,353.89 L63.14,353.65 L63.59,353.42 L64.04,353.19 L64.49,352.97 L64.94,352.74 L65.39,352.52 L65.84,352.30 L66.29,352.08 L66.75,351.86 L67.20,351.64 L67.66,351.43 L68.12,351.22 L68.57,351.01 L69.03,350.81 L69.49,350.60 L69.95,350.40 L70.41,350.21 L70.88,350.01 L71.34,349.82 L71.80,349.63 L72.27,349.44 L72.73,349.26 L73.20,349.08 L73.67,348.90 L74.13,348.73 L74.60,348.55 L75.07,348.39 L75.54,348.22 L76.01,348.06 L76.49,347.90 L76.96,347.75 L77.43,347.60 L77.91,347.46 L78.38,347.31 L78.86,347.17 L79.34,347.04 L79.81,346.91 L80.29,346.78 L80.77,346.66 L81.25,346.54 L81.73,346.43 L82.21,346.32 L82.69,346.22 L83.18,346.12 L83.66,346.02 L84.14,345.93 L84.63,345.84 L85.12,345.76 L85.60,345.68 L86.09,345.61 L86.58,345.54 L87.06,345.48 L87.55,345.42 L88.04,345.36 L88.53,345.31 L89.02,345.26 L89.51,345.22 L90.00,345.18 L90.50,345.15 L90.99,345.11 L91.48,345.09 L91.98,345.06 L92.47,345.04 L92.96,345.03 L93.46,345.01 L93.95,345.00 L94.45,345.00 L94.95,344.99 L95.44,344.99 L95.94,345.00 L96.44,345.01 L96.93,345.02 L97.43,345.03 L97.93,345.04 L98.43,345.06 L98.93,345.09 L99.43,345.11 L99.93,345.14 L100.43,345.17 L100.92,345.20 L101.42,345.24 L101.92,345.28 L102.42,345.32 L102.93,345.36 L103.43,345.40 L103.93,345.45 L104.43,345.50 L104.93,345.55 L105.43,345.61 L105.93,345.66 L106.43,345.72 L106.93,345.78 L107.43,345.84 L107.93,345.91 L108.43,345.97 L108.94,346.04 L109.44,346.11 L109.94,346.18 L110.44,346.25 L110.94,346.33 L111.44,346.40 L111.94,346.48 L112.44,346.55 L112.94,346.63 L113.44,346.71 L113.94,346.79 L114.44,346.88 L114.94,346.96 L115.44,347.04 L115.94,347.13 L116.44,347.21 L116.94,347.30 L117.44,347.39 L117.94,347.47 L118.43,347.56 L118.93,347.65 L119.43,347.73 L119.93,347.82 L120.42,347.91 L120.92,348.00 L121.42,348.08 L121.92,348.17 L122.41,348.26 L122.91,348.34 L123.40,348.43 L123.90,348.51 L124.40,348.59 L124.89,348.68 L125.39,348.76 L125.88,348.84 L126.38,348.92 L126.87,349.00 L127.37,349.07 L127.86,349.15 L128.36,349.22 L128.85,349.29 L129.34,349.36 L129.84,349.43 L130.33,349.50 L130.82,349.56 L131.32,349.62 L131.81,349.68 L132.30,349.74 L132.79,349.79 L133.29,349.84 L133.78,349.89 L134.27,349.94 L134.76,349.98 L135.25,350.02 L135.75,350.06 L136.24,350.10 L136.73,350.13 L137.22,350.16 L137.71,350.18 L138.20,350.20 L138.69,350.22 L139.18,350.23 L139.67,350.24 L140.16,350.25 L140.65,350.25 L141.14,350.25 L141.63,350.25 L142.12,350.24 L142.60,350.23 L143.09,350.21 L143.58,350.19 L144.07,350.17 L144.56,350.15 L145.05,350.12 L145.54,350.09 L146.02,350.06 L146.51,350.02 L147.00,349.98 L147.49,349.94 L147.98,349.89 L148.46,349.85 L148.95,349.80 L149.44,349.75 L149.93,349.69 L150.42,349.63 L150.91,349.58 L151.39,349.51 L151.88,349.45 L152.37,349.39 L152.86,349.32 L153.35,349.25 L153.84,349.18 L154.33,349.10 L154.82,349.03 L155.30,348.95 L155.79,348.87 L156.28,348.79 L156.77,348.71 L157.26,348.63 L157.75,348.55 L158.24,348.46 L158.73,348.37 L159.23,348.29 L159.72,348.20 L160.21,348.11 L160.70,348.02 L161.19,347.92 L161.68,347.83 L162.18,347.74 L162.67,347.64 L163.16,347.55 L163.66,347.45 L164.15,347.36 L164.64,347.26 L165.14,347.17 L165.63,347.07 L166.13,346.97 L166.62,346.87 L167.12,346.78 L167.62,346.68 L168.11,346.58 L168.61,346.48 L169.11,346.39 L169.61,346.29 L170.10,346.19 L170.60,346.09 L171.10,345.99 L171.60,345.89 L172.10,345.79 L172.60,345.68 L173.09,345.58 L173.59,345.48 L174.09,345.38 L174.59,345.27 L175.09,345.17 L175.59,345.06 L176.08,344.95 L176.58,344.85 L177.08,344.74 L177.58,344.63 L178.08,344.52 L178.57,344.41 L179.07,344.30 L179.57,344.18 L180.06,344.07 L180.56,343.95 L181.05,343.84 L181.55,343.72 L182.04,343.60 L182.54,343.48 L183.03,343.36 L183.53,343.24 L184.02,343.11 L184.51,342.99 L185.00,342.86 L185.49,342.73 L185.98,342.60 L186.47,342.47 L186.96,342.34 L187.45,342.20 L187.94,342.07 L188.42,341.93 L188.91,341.79 L189.39,341.65 L189.88,341.50 L190.36,341.36 L190.84,341.21 L191.32,341.06 L191.80,340.91 L192.28,340.76 L192.76,340.60 L193.24,340.45 L193.71,340.29 L194.19,340.13 L194.66,339.96 L195.13,339.80 L195.60,339.63 L196.07,339.46 L196.54,339.29 L197.01,339.12 L197.48,338.94 L197.94,338.76 L198.40,338.58 L198.87,338.40 L199.33,338.21 L199.79,338.02 L200.24,337.83 L200.70,337.64 L201.15,337.44 L201.61,337.24 L202.06,337.04 L202.51,336.83 L202.95,336.63 L203.40,336.42 L203.85,336.20 L204.29,335.99 L204.73,335.77 L205.17,335.55 L205.61,335.32 L206.04,335.09 L206.48,334.86 L206.91,334.63 L207.34,334.39 L207.76,334.15 L208.19,333.91 L208.61,333.66 L209.04,333.41 L209.46,333.16 L209.87,332.90 L210.29,332.64 L210.70,332.38 L211.11,332.11 L211.52,331.84 L211.93,331.57 L212.33,331.29 L212.74,331.01 L213.14,330.73 L213.53,330.44 L213.93,330.15 L214.32,329.86 L214.72,329.56 L215.11,329.26 L215.49,328.96 L215.88,328.66 L216.26,328.35 L216.65,328.04 L217.03,327.72 L217.40,327.40 L217.78,327.08 L218.16,326.76 L218.53,326.44 L218.90,326.11 L219.27,325.78 L219.64,325.45 L220.00,325.11 L220.37,324.77 L220.73,324.43 L221.09,324.09 L221.45,323.75 L221.81,323.40 L222.16,323.05 L222.52,322.70 L222.87,322.35 L223.22,321.99 L223.57,321.64 L223.92,321.28 L224.27,320.92 L224.61,320.55 L224.96,320.19 L225.30,319.82 L225.64,319.46 L225.98,319.09 L226.32,318.72 L226.66,318.34 L227.00,317.97 L227.33,317.60 L227.67,317.22 L228.00,316.84 L228.33,316.46 L228.66,316.08 L228.99,315.70 L229.32,315.32 L229.65,314.94 L229.97,314.55 L230.30,314.17 L230.63,313.78 L230.95,313.39 L231.27,313.00 L231.59,312.61 L231.92,312.22 L232.24,311.83 L232.56,311.44 L232.87,311.05 L233.19,310.66 L233.51,310.27 L233.83,309.87 L234.14,309.48 L234.46,309.08 L234.77,308.69 L235.08,308.29 L235.39,307.90 L235.70,307.50 L236.01,307.10 L236.32,306.70 L236.63,306.30 L236.94,305.90 L237.24,305.50 L237.55,305.10 L237.85,304.70 L238.16,304.30 L238.46,303.89 L238.76,303.49 L239.06,303.08 L239.36,302.68 L239.66,302.27 L239.96,301.87 L240.25,301.46 L240.55,301.05 L240.84,300.64 L241.13,300.23 L241.43,299.82 L241.72,299.41 L242.01,299.00 L242.29,298.59 L242.58,298.18 L242.87,297.77 L243.15,297.35 L243.44,296.94 L243.72,296.52 L244.00,296.11 L244.28,295.69 L244.56,295.28 L244.84,294.86 L245.12,294.44 L245.40,294.02 L245.67,293.60 L245.94,293.18 L246.22,292.76 L246.49,292.34 L246.76,291.92 L247.03,291.50 L247.29,291.08 L247.56,290.65 L247.83,290.23 L248.09,289.80 L248.35,289.38 L248.61,288.95 L248.87,288.53 L249.13,288.10 L249.39,287.67 L249.65,287.24 L249.90,286.82 L250.15,286.39 L250.41,285.96 L250.66,285.52 L250.91,285.09 L251.15,284.66 L251.40,284.23 L251.65,283.80 L251.89,283.36 L252.13,282.93 L252.37,282.49 L252.61,282.06 L252.85,281.62 L253.09,281.19 L253.33,280.75 L253.56,280.31 L253.80,279.87 L254.03,279.43 L254.26,278.99 L254.49,278.55 L254.72,278.11 L254.95,277.67 L255.18,277.23 L255.40,276.79 L255.63,276.35 L255.85,275.90 L256.07,275.46 L256.29,275.02 L256.51,274.57 L256.73,274.13 L256.95,273.68 L257.16,273.23 L257.38,272.79 L257.59,272.34 L257.81,271.89 L258.02,271.44 L258.23,271.00 L258.44,270.55 L258.65,270.10 L258.86,269.65 L259.06,269.20 L259.27,268.74 L259.47,268.29 L259.68,267.84 L259.88,267.39 L260.08,266.94 L260.28,266.48 L260.48,266.03 L260.68,265.57 L260.88,265.12 L261.07,264.66 L261.27,264.21 L261.46,263.75 L261.66,263.30 L261.85,262.84 L262.04,262.38 L262.23,261.92 L262.42,261.46 L262.61,261.01 L262.80,260.55 L262.99,260.09 L263.17,259.63 L263.36,259.17 L263.54,258.71 L263.73,258.24 L263.91,257.78 L264.09,257.32 L264.27,256.86 L264.45,256.40 L264.63,255.93 L264.81,255.47 L264.99,255.00 L265.16,254.54 L265.34,254.08 L265.51,253.61 L265.69,253.15 L265.86,252.68 L266.04,252.21 L266.21,251.75 L266.38,251.28 L266.55,250.81 L266.72,250.35 L266.89,249.88 L267.06,249.41 L267.22,248.94 L267.39,248.47 L267.56,248.00 L267.72,247.53 L267.89,247.06 L268.05,246.59 L268.22,246.12 L268.38,245.65 L268.54,245.18 L268.70,244.71 L268.86,244.24 L269.02,243.76 L269.18,243.29 L269.34,242.82 L269.50,242.35 L269.66,241.87 L269.82,241.40 L269.97,240.93 L270.13,240.45 L270.28,239.98 L270.44,239.50 L270.59,239.03 L270.75,238.55 L270.90,238.08 L271.05,237.60 L271.20,237.13 L271.35,236.65 L271.51,236.17 L271.66,235.70 L271.81,235.22 L271.96,234.74 L272.10,234.26 L272.25,233.79 L272.40,233.31 L272.55,232.83 L272.70,232.35 L272.84,231.87 L272.99,231.40 L273.13,230.92 L273.28,230.44 L273.42,229.96 L273.57,229.48 L273.71,229.00 L273.86,228.52 L274.00,228.04 L274.14,227.56 L274.29,227.08 L274.43,226.60 L274.57,226.12 L274.71,225.64 L274.85,225.15 L274.99,224.67 L275.13,224.19 L275.27,223.71 L275.41,223.23 L275.55,222.74 L275.69,222.26 L275.83,221.78 L275.97,221.30 L276.11,220.82 L276.25,220.33 L276.38,219.85 L276.52,219.37 L276.66,218.88 L276.80,218.40 L276.93,217.92 L277.07,217.43 L277.20,216.95 L277.34,216.47 L277.48,215.98 L277.61,215.50 L277.75,215.01 L277.88,214.53 L278.02,214.04 L278.15,213.56 L278.29,213.08 L278.42,212.59 L278.56,212.11 L278.69,211.62 L278.83,211.14 L278.96,210.65 L279.09,210.17 L279.23,209.68 L279.36,209.20 L279.50,208.71 L279.63,208.23 L279.76,207.74 L279.90,207.26 L280.03,206.77 L280.16,206.28 L280.30,205.80 L280.43,205.31 L280.56,204.83 L280.70,204.34 L280.83,203.86 L280.96,203.37 L281.10,202.88 L281.23,202.40 L281.36,201.91 L281.50,201.43 L281.63,200.94 L281.76,200.46 L281.90,199.97 L282.03,199.48 L282.16,199.00 L282.30,198.51 L282.43,198.03 L282.57,197.54 L282.70,197.06 L282.83,196.57 L282.97,196.08 L283.10,195.60 L283.24,195.11 L283.37,194.63 L283.51,194.14 L283.65,193.66 L283.78,193.18 L283.92,192.69 L284.06,192.21 L284.20,191.73 L284.34,191.25 L284.49,190.76 L284.63,190.28 L284.78,189.80 L284.92,189.33 L285.07,188.85 L285.22,188.37 L285.38,187.89 L285.53,187.42 L285.69,186.95 L285.84,186.47 L286.00,186.00 L286.17,185.53 L286.33,185.06 L286.50,184.59 L286.67,184.13 L286.84,183.66 L287.02,183.20 L287.20,182.74 L287.38,182.27 L287.56,181.82 L287.75,181.36 L287.94,180.90 L288.13,180.45 L288.33,180.00 L288.53,179.55 L288.73,179.10 L288.94,178.65 L289.15,178.21 L289.37,177.77 L289.59,177.33 L289.81,176.89 L290.04,176.45 L290.27,176.02 L290.50,175.59 L290.74,175.16 L290.99,174.74 L291.24,174.31 L291.49,173.89 L291.75,173.47 L292.01,173.06 L292.28,172.64 L292.55,172.23 L292.83,171.83 L293.12,171.42 L293.40,171.02 L293.70,170.62 L294.00,170.23 L294.30,169.83 L294.61,169.44 L294.93,169.06 L295.25,168.67 L295.57,168.29 L295.90,167.91 L296.23,167.53 L296.57,167.15 L296.90,166.78 L297.24,166.40 L297.58,166.03 L297.93,165.66 L298.27,165.29 L298.62,164.92 L298.97,164.55 L299.32,164.18 L299.67,163.81 L300.01,163.44 L300.36,163.07 L300.71,162.70 L301.05,162.33 L301.40,161.95 L301.74,161.58 L302.08,161.20 L302.42,160.83 L302.75,160.45 L303.09,160.07 L303.42,159.69 L303.74,159.30 L304.06,158.92 L304.38,158.53 L304.69,158.14 L305.00,157.74 L305.31,157.35 L305.61,156.95 L305.90,156.55 L306.20,156.15 L306.49,155.74 L306.78,155.33 L307.06,154.93 L307.34,154.52 L307.62,154.10 L307.89,153.69 L308.16,153.27 L308.43,152.86 L308.69,152.44 L308.96,152.01 L309.21,151.59 L309.47,151.17 L309.72,150.74 L309.97,150.31 L310.22,149.88 L310.47,149.45 L310.71,149.02 L310.95,148.59 L311.18,148.15 L311.42,147.72 L311.65,147.28 L311.88,146.84 L312.11,146.40 L312.34,145.96 L312.56,145.52 L312.78,145.08 L313.00,144.63 L313.22,144.19 L313.44,143.74 L313.65,143.30 L313.87,142.85 L314.08,142.40 L314.29,141.95 L314.50,141.50 L314.71,141.05 L314.91,140.60 L315.12,140.15 L315.32,139.70 L315.52,139.24 L315.72,138.79 L315.92,138.34 L316.12,137.88 L316.32,137.43 L316.52,136.97 L316.71,136.52 L316.91,136.06 L317.10,135.60 L317.29,135.15 L317.48,134.69 L317.67,134.23 L317.86,133.77 L318.05,133.32 L318.24,132.86 L318.42,132.40 L318.61,131.94 L318.79,131.48 L318.98,131.01 L319.16,130.55 L319.34,130.09 L319.52,129.63 L319.70,129.17 L319.88,128.70 L320.05,128.24 L320.23,127.78 L320.41,127.31 L320.58,126.85 L320.76,126.38 L320.93,125.92 L321.10,125.45 L321.27,124.98 L321.44,124.52 L321.61,124.05 L321.78,123.58 L321.95,123.11 L322.12,122.65 L322.28,122.18 L322.45,121.71 L322.61,121.24 L322.78,120.77 L322.94,120.30 L323.11,119.83 L323.27,119.36 L323.43,118.89 L323.59,118.42 L323.75,117.94 L323.91,117.47 L324.07,117.00 L324.23,116.53 L324.38,116.05 L324.54,115.58 L324.70,115.11 L324.85,114.63 L325.01,114.16 L325.16,113.68 L325.31,113.21 L325.47,112.73 L325.62,112.26 L325.77,111.78 L325.92,111.31 L326.07,110.83 L326.22,110.35 L326.37,109.88 L326.52,109.40 L326.67,108.92 L326.82,108.45 L326.97,107.97 L327.12,107.49 L327.26,107.01 L327.41,106.53 L327.55,106.05 L327.70,105.58 L327.85,105.10 L327.99,104.62 L328.13,104.14 L328.28,103.66 L328.42,103.18 L328.57,102.70 L328.71,102.22 L328.85,101.74 L328.99,101.25 L329.14,100.77 L329.28,100.29 L329.42,99.81 L329.56,99.33 L329.70,98.85 L329.84,98.37 L329.98,97.88 L330.12,97.40 L330.26,96.92 L330.40,96.44 L330.54,95.95 L330.68,95.47 L330.82,94.99 L330.96,94.50 L331.09,94.02 L331.23,93.54 L331.37,93.05 L331.51,92.57 L331.65,92.09 L331.78,91.60 L331.92,91.12 L332.06,90.63 L332.20,90.15 L332.33,89.66 L332.47,89.18 L332.61,88.69 L332.75,88.21 L332.88,87.72 L333.02,87.24 L333.16,86.75 L333.29,86.27 L333.43,85.78 L333.57,85.30 L333.70,84.81 L333.84,84.33 L333.98,83.84 L334.12,83.36 L334.26,82.87 L334.39,82.39 L334.53,81.90 L334.67,81.42 L334.81,80.93 L334.96,80.45 L335.10,79.96 L335.24,79.48 L335.38,79.00 L335.53,78.51 L335.68,78.03 L335.82,77.55 L335.97,77.06 L336.12,76.58 L336.27,76.10 L336.42,75.62 L336.58,75.14 L336.73,74.66 L336.89,74.18 L337.05,73.70 L337.21,73.22 L337.37,72.75 L337.53,72.27 L337.70,71.79 L337.87,71.32 L338.04,70.84 L338.21,70.37 L338.38,69.89 L338.56,69.42 L338.74,68.95 L338.92,68.48 L339.10,68.01 L339.29,67.54 L339.48,67.07 L339.67,66.60 L339.86,66.13 L340.06,65.67 L340.26,65.20 L340.46,64.74 L340.67,64.28 L340.87,63.82 L341.09,63.36 L341.30,62.90 L341.52,62.44 L341.74,61.98 L341.97,61.53 L342.19,61.07 L342.43,60.62 L342.66,60.17 L342.90,59.72 L343.14,59.27 L343.39,58.82 L343.64,58.38 L343.90,57.93 L344.16,57.49 L344.42,57.05 L344.69,56.63 L344.97,56.21 L345.25,55.81 L345.54,55.42 L345.85,55.05 L346.16,54.70 L346.48,54.37 L346.81,54.07 L347.15,53.79 L347.51,53.54 L347.88,53.32 L348.26,53.14 L348.65,52.98 L349.05,52.86 L349.46,52.76 L349.87,52.70 L350.29,52.66 L350.70,52.65 L351.12,52.66 L351.54,52.71 L351.96,52.77 L352.37,52.87 L352.77,52.98 L353.17,53.12 L353.56,53.28 L353.93,53.47 L354.30,53.67 L354.66,53.90 L355.01,54.15 L355.35,54.41 L355.68,54.70 L356.01,55.00 L356.32,55.32 L356.63,55.66 L356.93,56.01 L357.23,56.38 L357.52,56.76 L357.80,57.16 L358.07,57.57 L358.34,57.99 L358.61,58.42 L358.87,58.86 L359.13,59.32 L359.38,59.78 L359.62,60.26 L359.87,60.74 L360.11,61.23 L360.35,61.72 L360.58,62.23 L360.81,62.73 L361.05,63.25 L361.27,63.76 L361.50,64.28 L361.73,64.81 L361.95,65.33 L362.18,65.86 L362.41,66.39 L362.63,66.91 L362.86,67.44 L363.09,67.97 L363.32,68.49 L363.55,69.01 L363.78,69.53 L364.01,70.04 L364.25,70.55 L364.49,71.05 L364.74,71.54 L364.98,72.03 L365.23,72.51 L365.49,72.99 L365.75,73.45 L366.01,73.91 L366.28,74.35 L366.56,74.78 L366.84,75.21 L367.13,75.61 L367.42,76.01 L367.72,76.39 L368.03,76.75 L368.35,77.10 L368.68,77.43 L369.01,77.74 L369.35,78.03 L369.70,78.30 L370.07,78.55 L370.44,78.78 L370.82,78.98 L371.21,79.15 L371.62,79.31 L372.04,79.43 L372.46,79.53 L372.90,79.60 L373.35,79.65 L373.81,79.67 L374.28,79.67 L374.76,79.65 L375.25,79.60 L375.74,79.53 L376.25,79.44 L376.75,79.33 L377.27,79.21 L377.79,79.08 L378.31,78.94 L378.83,78.79 L379.36,78.64 L379.89,78.48 L380.41,78.33 L380.94,78.18 L381.46,78.04 L381.98,77.90 L382.50,77.78 L383.01,77.67 L383.52,77.58 L384.02,77.51 L384.51,77.46 L384.99,77.43 L385.46,77.43 L385.93,77.46 L386.38,77.52 L386.82,77.61 L387.24,77.74 L387.66,77.90 L388.06,78.08 L388.46,78.29 L388.84,78.52 L389.22,78.78 L389.59,79.05 L389.95,79.34 L390.30,79.64 L390.65,79.95 L390.99,80.27 L391.32,80.60 L391.65,80.93 L391.97,81.27 L392.29,81.61 L392.61,81.95 L392.92,82.30 L393.23,82.65 L393.53,83.01 L393.82,83.37 L394.12,83.73 L394.40,84.10 L394.69,84.48 L394.96,84.85 L395.24,85.23 L395.51,85.61 L395.78,86.00 L396.04,86.39 L396.30,86.78 L396.55,87.18 L396.80,87.58 L397.05,87.98 L397.29,88.39 L397.53,88.80 L397.76,89.21 L397.99,89.63 L398.22,90.05 L398.44,90.47 L398.66,90.90 L398.88,91.33 L399.09,91.76 L399.30,92.19 L399.51,92.63 L399.71,93.07 L399.91,93.51 L400.11,93.95 L400.30,94.40 L400.49,94.85 L400.68,95.30 L400.87,95.76 L401.05,96.21 L401.23,96.67 L401.40,97.13 L401.58,97.60 L401.75,98.06 L401.92,98.53 L402.08,99.00 L402.25,99.47 L402.41,99.94 L402.57,100.42 L402.72,100.89 L402.88,101.37 L403.03,101.85 L403.18,102.33 L403.33,102.82 L403.47,103.30 L403.61,103.79 L403.76,104.28 L403.90,104.77 L404.03,105.26 L404.17,105.75 L404.30,106.24 L404.44,106.74 L404.57,107.23 L404.70,107.73 L404.83,108.23 L404.95,108.73 L405.08,109.23 L405.20,109.73 L405.32,110.23 L405.44,110.73 L405.56,111.23 L405.68,111.74 L405.80,112.24 L405.92,112.74 L406.03,113.25 L406.15,113.75 L406.26,114.26 L406.38,114.77 L406.49,115.27 L406.60,115.78 L406.71,116.29 L406.82,116.79 L406.93,117.30 L407.04,117.81 L407.15,118.31 L407.26,118.82 L407.37,119.33 L407.48,119.84 L407.59,120.34 L407.69,120.85 L407.80,121.35 L407.91,121.86 L408.02,122.36 L408.13,122.87 L408.23,123.37 L408.34,123.88 L408.45,124.38 L408.56,124.88 L408.67,125.38 L408.78,125.88 L408.89,126.38 L409.00,126.88 L409.11,127.38 L409.22,127.88 L409.33,128.38 L409.44,128.88 L409.55,129.38 L409.66,129.87 L409.77,130.37 L409.88,130.87 L409.99,131.36 L410.10,131.85 L410.21,132.35 L410.32,132.84 L410.43,133.34 L410.55,133.83 L410.66,134.32 L410.77,134.81 L410.88,135.30 L410.99,135.80 L411.11,136.29 L411.22,136.78 L411.33,137.27 L411.44,137.76 L411.55,138.24 L411.67,138.73 L411.78,139.22 L411.89,139.71 L412.01,140.20 L412.12,140.68 L412.23,141.17 L412.34,141.66 L412.46,142.14 L412.57,142.63 L412.68,143.11 L412.80,143.60 L412.91,144.08 L413.02,144.57 L413.14,145.05 L413.25,145.53 L413.36,146.02 L413.48,146.50 L413.59,146.98 L413.70,147.47 L413.82,147.95 L413.93,148.43 L414.04,148.91 L414.16,149.39 L414.27,149.87 L414.38,150.36 L414.50,150.84 L414.61,151.32 L414.72,151.80 L414.84,152.28 L414.95,152.76 L415.06,153.24 L415.18,153.72 L415.29,154.20 L415.40,154.68 L415.52,155.16 L415.63,155.63 L415.74,156.11 L415.86,156.59 L415.97,157.07 L416.08,157.55 L416.19,158.03 L416.31,158.51 L416.42,158.98 L416.53,159.46 L416.64,159.94 L416.76,160.42 L416.87,160.90 L416.98,161.37 L417.09,161.85 L417.20,162.33 L417.32,162.81 L417.43,163.28 L417.54,163.76 L417.65,164.24 L417.76,164.72 L417.87,165.19 L417.98,165.67 L418.09,166.15 L418.21,166.63 L418.32,167.10 L418.43,167.58 L418.54,168.06 L418.65,168.54 L418.76,169.01 L418.87,169.49 L418.98,169.97 L419.09,170.45 L419.19,170.92 L419.30,171.40 L419.41,171.88 L419.52,172.36 L419.63,172.84 L419.74,173.31 L419.85,173.79 L419.95,174.27 L420.06,174.75 L420.17,175.23 L420.28,175.71 L420.38,176.19 L420.49,176.67 L420.60,177.15 L420.70,177.63 L420.81,178.11 L420.92,178.58 L421.02,179.07 L421.13,179.55 L421.23,180.03 L421.34,180.51 L421.44,180.99 L421.55,181.47 L421.65,181.95 L421.75,182.43 L421.86,182.91 L421.96,183.40 L422.06,183.88 L422.17,184.36 L422.27,184.84 L422.37,185.33 L422.47,185.81 L422.57,186.29 L422.68,186.78 L422.78,187.26 L422.88,187.75 L422.98,188.23 L423.08,188.72 L423.18,189.20 L423.28,189.69 L423.38,190.18 L423.47,190.66 L423.57,191.15 L423.67,191.64 L423.77,192.13 L423.86,192.61 L423.96,193.10 L424.06,193.59 L424.15,194.08 L424.25,194.57 L424.35,195.06 L424.44,195.55 L424.54,196.04 L424.63,196.53 L424.73,197.03 L424.82,197.52 L424.91,198.01 L425.01,198.50 L425.10,199.00 L425.19,199.49 L425.29,199.98 L425.38,200.48 L425.47,200.97 L425.57,201.46 L425.66,201.96 L425.75,202.45 L425.84,202.95 L425.94,203.44 L426.03,203.94 L426.12,204.43 L426.21,204.93 L426.30,205.43 L426.40,205.92 L426.49,206.42 L426.58,206.92 L426.67,207.41 L426.76,207.91 L426.85,208.41 L426.95,208.90 L427.04,209.40 L427.13,209.90 L427.22,210.40 L427.31,210.90 L427.41,211.39 L427.50,211.89 L427.59,212.39 L427.68,212.89 L427.78,213.39 L427.87,213.88 L427.96,214.38 L428.06,214.88 L428.15,215.38 L428.24,215.88 L428.34,216.38 L428.43,216.88 L428.52,217.38 L428.62,217.87 L428.71,218.37 L428.81,218.87 L428.90,219.37 L429.00,219.87 L429.10,220.37 L429.19,220.87 L429.29,221.37 L429.39,221.87 L429.48,222.36 L429.58,222.86 L429.68,223.36 L429.78,223.86 L429.88,224.36 L429.98,224.86 L430.08,225.36 L430.18,225.85 L430.28,226.35 L430.38,226.85 L430.48,227.35 L430.58,227.84 L430.68,228.34 L430.79,228.84 L430.89,229.34 L431.00,229.83 L431.10,230.33 L431.21,230.83 L431.31,231.32 L431.42,231.82 L431.53,232.32 L431.63,232.81 L431.74,233.31 L431.85,233.80 L431.96,234.30 L432.07,234.80 L432.18,235.29 L432.29,235.78 L432.41,236.28 L432.52,236.77 L432.63,237.27 L432.75,237.76 L432.86,238.25 L432.98,238.75 L433.10,239.24 L433.21,239.73 L433.33,240.22 L433.45,240.72 L433.57,241.21 L433.69,241.70 L433.81,242.19 L433.94,242.68 L434.06,243.17 L434.19,243.66 L434.31,244.15 L434.44,244.64 L434.56,245.12 L434.69,245.61 L434.82,246.10 L434.95,246.59 L435.08,247.07 L435.21,247.56 L435.35,248.05 L435.48,248.53 L435.62,249.02 L435.75,249.50 L435.89,249.99 L436.03,250.47 L436.17,250.95 L436.31,251.44 L436.45,251.92 L436.59,252.40 L436.73,252.88 L436.88,253.36 L437.03,253.84 L437.17,254.32 L437.32,254.80 L437.47,255.28 L437.62,255.76 L437.77,256.23 L437.93,256.71 L438.08,257.19 L438.24,257.66 L438.39,258.14 L438.55,258.61 L438.71,259.09 L438.87,259.56 L439.03,260.03 L439.19,260.50 L439.36,260.98 L439.53,261.45 L439.69,261.92 L439.86,262.39 L440.03,262.85 L440.20,263.32 L440.37,263.79 L440.55,264.26 L440.72,264.72 L440.90,265.19 L441.08,265.65 L441.26,266.12 L441.44,266.58 L441.62,267.04 L441.81,267.50 L441.99,267.96 L442.18,268.42 L442.37,268.88 L442.56,269.34 L442.75,269.80 L442.95,270.26 L443.14,270.71 L443.34,271.17 L443.54,271.62 L443.74,272.08 L443.94,272.53 L444.14,272.98 L444.35,273.43 L444.55,273.88 L444.76,274.33 L444.97,274.78 L445.18,275.23 L445.40,275.68 L445.61,276.12 L445.83,276.57 L446.05,277.01 L446.27,277.46 L446.49,277.90 L446.71,278.34 L446.94,278.78 L447.17,279.22 L447.40,279.66 L447.63,280.10 L447.86,280.53 L448.10,280.97 L448.33,281.40 L448.57,281.84 L448.81,282.27 L449.05,282.70 L449.30,283.13 L449.55,283.56 L449.79,283.99 L450.04,284.42 L450.30,284.85 L450.55,285.27 L450.80,285.70 L451.06,286.12 L451.32,286.54 L451.58,286.96 L451.85,287.38 L452.11,287.80 L452.38,288.22 L452.65,288.63 L452.92,289.05 L453.19,289.46 L453.47,289.88 L453.74,290.29 L454.02,290.70 L454.30,291.11 L454.58,291.51 L454.87,291.92 L455.15,292.32 L455.44,292.73 L455.73,293.13 L456.02,293.53 L456.31,293.93 L456.61,294.33 L456.90,294.72 L457.20,295.12 L457.50,295.51 L457.81,295.91 L458.11,296.30 L458.42,296.69 L458.73,297.07 L459.04,297.46 L459.35,297.84 L459.66,298.23 L459.98,298.61 L460.29,298.99 L460.61,299.37 L460.93,299.74 L461.26,300.12 L461.58,300.49 L461.91,300.87 L462.24,301.24 L462.57,301.60 L462.90,301.97 L463.23,302.34 L463.57,302.70 L463.91,303.06 L464.25,303.42 L464.59,303.78 L464.93,304.14 L465.27,304.49 L465.62,304.85 L465.97,305.20 L466.32,305.55 L466.67,305.89 L467.03,306.24 L467.38,306.58 L467.74,306.93 L468.10,307.27 L468.46,307.60 L468.82,307.94 L469.19,308.27 L469.56,308.61 L469.93,308.94 L470.30,309.27 L470.67,309.59 L471.04,309.92 L471.42,310.24 L471.80,310.56 L472.18,310.88 L472.56,311.19 L472.94,311.51 L473.33,311.82 L473.71,312.13 L474.10,312.44 L474.49,312.74 L474.88,313.05 L475.28,313.35 L475.67,313.65 L476.07,313.95 L476.47,314.24 L476.87,314.53 L477.28,314.82 L477.68,315.11 L478.09,315.40 L478.50,315.68 L478.91,315.96 L479.32,316.24 L479.73,316.52 L480.15,316.79 L480.57,317.07 L480.99,317.34 L481.41,317.60 L481.83,317.87 L482.25,318.13 L482.68,318.39 L483.11,318.65 L483.54,318.90 L483.97,319.16 L484.40,319.41 L484.84,319.65 L485.28,319.90 L485.72,320.14 L486.16,320.38 L486.60,320.62 L487.04,320.86 L487.49,321.09 L487.94,321.32 L488.39,321.55 L488.84,321.77 L489.29,322.00 L489.75,322.22 L490.20,322.43 L490.66,322.65 L491.12,322.86 L491.58,323.08 L492.04,323.29 L492.50,323.50 L492.97,323.70 L493.43,323.91 L493.90,324.11 L494.36,324.32 L494.83,324.52 L495.30,324.72 L495.76,324.92 L496.23,325.12 L496.70,325.32 L497.17,325.52 L497.64,325.72 L498.11,325.92 L498.58,326.12 L499.05,326.32 L499.52,326.51 L499.98,326.71 L500.45,326.91 L500.92,327.11 L501.39,327.31 L501.86,327.51 L502.32,327.72 L502.79,327.92 L503.25,328.12 L503.72,328.33 L504.18,328.54 L504.64,328.74 L505.10,328.95 L505.56,329.16 L506.02,329.38 L506.48,329.59 L506.94,329.81 L507.39,330.03 L507.84,330.25 L508.30,330.47 L508.75,330.70 L509.19,330.93 L509.64,331.16 L510.08,331.40 L510.52,331.63 L510.96,331.87 L511.40,332.12 L511.84,332.36 L512.27,332.61 L512.70,332.87 L513.13,333.13 L513.55,333.39 L513.97,333.65 L514.39,333.92 L514.81,334.20 L515.22,334.47 L515.63,334.75 L516.04,335.04 L516.45,335.33 L516.85,335.62 L517.25,335.91 L517.65,336.21 L518.05,336.51 L518.45,336.81 L518.84,337.12 L519.23,337.43 L519.62,337.74 L520.01,338.05 L520.40,338.36 L520.79,338.68 L521.17,339.00 L521.56,339.32 L521.94,339.64 L522.33,339.96 L522.71,340.28 L523.09,340.61 L523.47,340.93 L523.85,341.26 L524.23,341.58 L524.61,341.91 L524.99,342.23 L525.37,342.56 L525.75,342.88 L526.13,343.21 L526.51,343.53 L526.89,343.86 L527.28,344.18 L527.66,344.50 L528.04,344.82 L528.43,345.14 L528.81,345.46 L529.20,345.78 L529.59,346.09 L529.98,346.41 L530.37,346.72 L530.76,347.03 L531.15,347.33 L531.55,347.64 L531.94,347.94 L532.34,348.24 L532.75,348.54 L533.15,348.83 L533.55,349.12 L533.96,349.40 L534.37,349.69 L534.79,349.97 L535.20,350.24 L535.62,350.51 L536.04,350.78 L536.46,351.05 L536.89,351.31 L537.31,351.57 L537.74,351.83 L538.17,352.08 L538.61,352.33 L539.04,352.57 L539.48,352.82 L539.92,353.06 L540.36,353.29 L540.80,353.53 L541.24,353.76 L541.69,353.98 L542.14,354.21 L542.59,354.43 L543.04,354.65 L543.49,354.86 L543.95,355.08 L544.40,355.29 L544.86,355.49 L545.32,355.70 L545.78,355.90 L546.24,356.10 L546.70,356.30 L547.16,356.49 L547.63,356.68 L548.09,356.87 L548.56,357.06 L549.03,357.24 L549.49,357.42 L549.96,357.60 L550.43,357.78 L550.91,357.95 L551.38,358.12 L551.85,358.29 L552.32,358.46 L552.80,358.63 L553.27,358.79 L553.75,358.95 L554.22,359.11 L554.70,359.27 L555.18,359.42 L555.65,359.57 L556.13,359.72 L556.61,359.87 L557.09,360.02 L557.56,360.16 L558.04,360.30 L558.52,360.44 L559.00,360.58 L559.48,360.72 L559.96,360.85 L560.44,360.99 L560.92,361.12 L561.40,361.25 L561.88,361.38 L562.36,361.50 L562.84,361.63 L563.32,361.75 L563.80,361.87 L564.28,361.99 L564.76,362.11 L565.24,362.22 L565.73,362.34 L566.21,362.45 L566.69,362.56 L567.18,362.67 L567.66,362.77 L568.15,362.88 L568.63,362.98 L569.12,363.09 L569.61,363.19 L570.09,363.29 L570.58,363.38 L571.07,363.48 L571.56,363.57 L572.05,363.67 L572.54,363.76 L573.03,363.85 L573.53,363.93 L574.02,364.02 L574.51,364.10 L575.01,364.19 L575.50,364.27 L576.00,364.35 L576.50,364.43 L577.00,364.51 L577.50,364.58 L578.00,364.66 L578.50,364.73 L579.00,364.80" fill="none" stroke="#006400" stroke-width="2.8" stroke-dasharray="6.3 1.6 1.7 6.25" stroke-linejoin="round"/>
</g>
<rect x="54.6" y="19.15" width="524.4" height="358.85" fill="none" stroke="#000" stroke-width="1.15"/>
<line x1="54.60" y1="378.0" x2="54.60" y2="385.9" stroke="#000" stroke-width="1.15"/>
<line x1="159.48" y1="378.0" x2="159.48" y2="385.9" stroke="#000" stroke-width="1.15"/>
<line x1="264.36" y1="378.0" x2="264.36" y2="385.9" stroke="#000" stroke-width="1.15"/>
<line x1="369.24" y1="378.0" x2="369.24" y2="385.9" stroke="#000" stroke-width="1.15"/>
<line x1="474.12" y1="378.0" x2="474.12" y2="385.9" stroke="#000" stroke-width="1.15"/>
<line x1="579.00" y1="378.0" x2="579.00" y2="385.9" stroke="#000" stroke-width="1.15"/>
<line x1="107.04" y1="378.0" x2="107.04" y2="381.6" stroke="#000" stroke-width="0.85"/>
<line x1="211.92" y1="378.0" x2="211.92" y2="381.6" stroke="#000" stroke-width="0.85"/>
<line x1="316.80" y1="378.0" x2="316.80" y2="381.6" stroke="#000" stroke-width="0.85"/>
<line x1="421.68" y1="378.0" x2="421.68" y2="381.6" stroke="#000" stroke-width="0.85"/>
<line x1="526.56" y1="378.0" x2="526.56" y2="381.6" stroke="#000" stroke-width="0.85"/>
<text x="54.00" y="421.6" text-anchor="middle" class="tk">1738</text>
<text x="158.88" y="421.6" text-anchor="middle" class="tk">1739</text>
<text x="263.76" y="421.6" text-anchor="middle" class="tk">1740</text>
<text x="368.64" y="421.6" text-anchor="middle" class="tk">1741</text>
<text x="473.52" y="421.6" text-anchor="middle" class="tk">1742</text>
<text x="578.40" y="421.6" text-anchor="middle" class="tk">1743</text>
<text x="236.0" y="464.7" class="al" style="letter-spacing:0.5px">Energy</text>
<text x="351.6" y="464.7" class="al" style="letter-spacing:-0.6px">eV</text>
<path d="M352.2,440 H347.5 V473.1 H352.2 M390.2,440 H394.8 V473.1 H390.2" fill="none" stroke="#000" stroke-width="1.15"/>
<text transform="translate(32.8,302.6) rotate(-90)" class="al" style="letter-spacing:0.7px">Intensity</text>
<text transform="translate(32.8,159.8) rotate(-90)" class="al" style="letter-spacing:0.9px">arb.</text>
<path d="M5.3,161.8 Q22.6,184.6 39.9,161.8 Q22.6,181.6 5.3,161.8 Z" fill="#000" stroke="#000" stroke-width="0.45"/>
<path d="M5.3,107.9 Q22.6,84.2 39.9,107.9 Q22.6,87.2 5.3,107.9 Z" fill="#000" stroke="#000" stroke-width="0.45"/>
<line x1="597.5" y1="78.9" x2="647.5" y2="78.9" stroke="#0000ff" stroke-width="3.2"/>
<line x1="597.5" y1="111.9" x2="647.5" y2="111.9" stroke="#ff0000" stroke-width="3.2" stroke-dasharray="6.7 1.4"/>
<line x1="597.5" y1="145.1" x2="647.5" y2="145.1" stroke="#006400" stroke-width="3.2" stroke-dasharray="6.7 1.4 1.8 6.0"/>
<rect x="597.7" y="168" width="49.8" height="19.8" fill="#dcdcdc"/>
<text x="660.3" y="54" class="lg" style="font-size:29px">Si</text>
<text x="691.6" y="54" class="lg" font-style="italic" style="font-size:29.5px" textLength="23.6" lengthAdjust="spacingAndGlyphs">K</text>
<text x="716.6" y="54" class="lg" font-style="italic" style="font-size:28px" textLength="17.4" lengthAdjust="spacingAndGlyphs">α</text>
<text x="734.6" y="57.6" class="lg" style="font-size:19.5px;letter-spacing:0.9px">1,2</text>
<text x="660.5" y="86.9" class="lg">base</text>
<path d="M661.1,112.80 H678.9 M670,104.00 V121.60" stroke="#000" stroke-width="1.1" fill="none"/>
<path d="M661.1,145.80 H678.9 M670,137.00 V154.60" stroke="#000" stroke-width="1.1" fill="none"/>
<text x="689.3" y="120" class="lg">ex.</text>
<text x="689.3" y="153" class="lg" style="letter-spacing:0.95px">sat.</text>
<text x="660.5" y="186.2" class="lg" style="letter-spacing:0.4px">experiment</text>
<text x="660.5" y="219.1" class="lg" style="letter-spacing:0.42px">reconstruction</text>
</svg>
</body></html>
